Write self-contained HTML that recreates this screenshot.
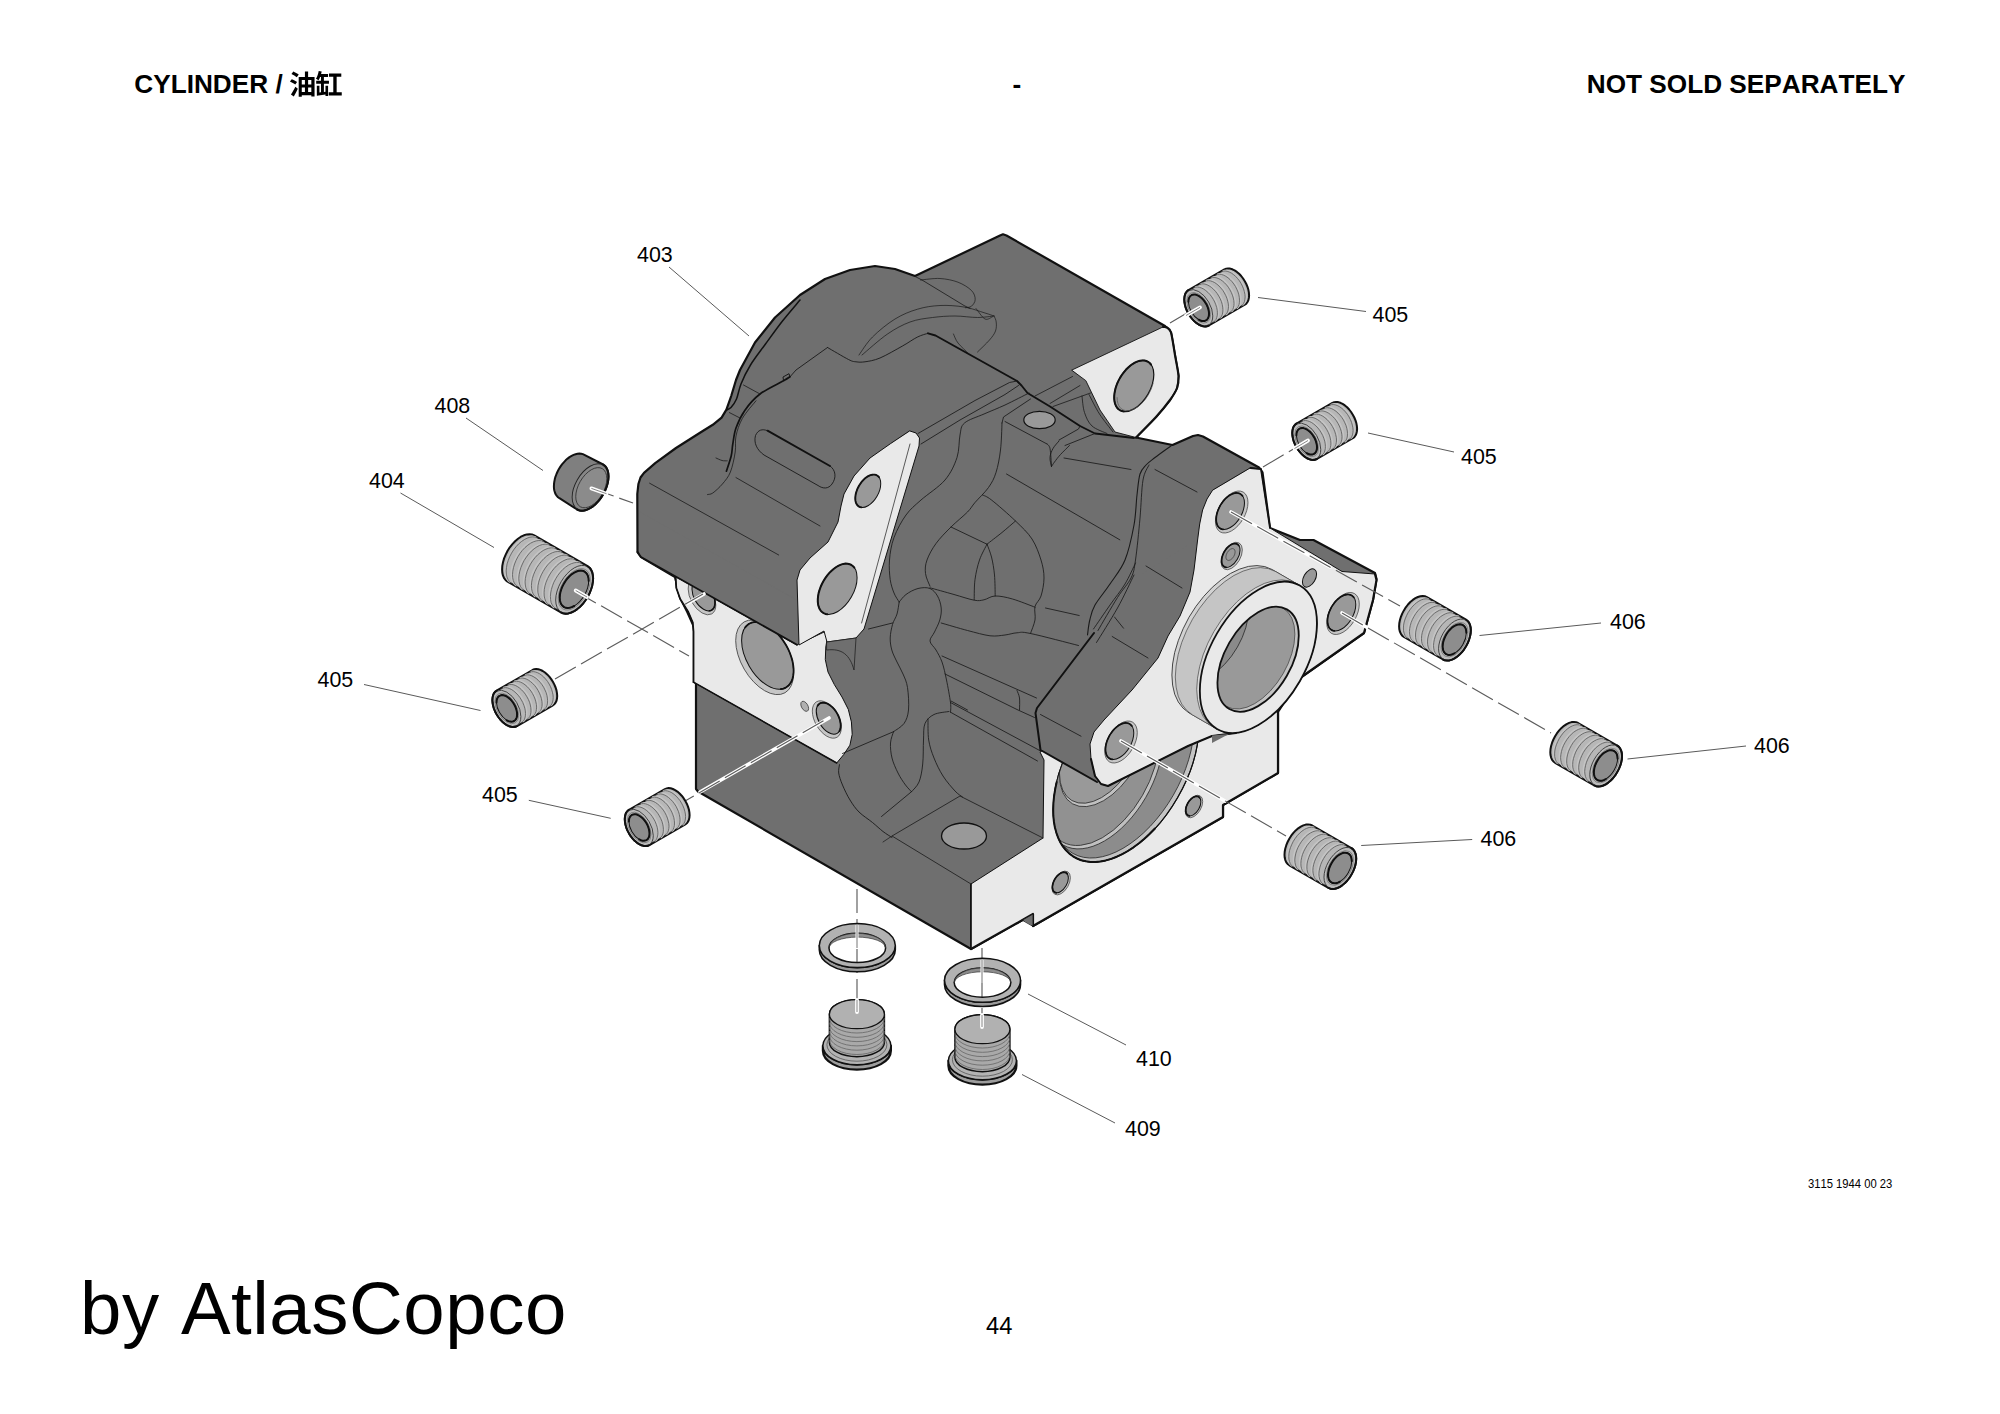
<!DOCTYPE html>
<html><head><meta charset="utf-8"><title>CYLINDER</title>
<style>
html,body{margin:0;padding:0;background:#fff;}
body{width:2000px;height:1414px;position:relative;overflow:hidden;font-family:"Liberation Sans",sans-serif;color:#000;font-kerning:none;}
svg text{font-family:"Liberation Sans",sans-serif;font-size:21.4px;fill:#000;font-kerning:none;}
svg text.hd{font-weight:bold;font-size:26.2px;}
</style></head><body>
<svg width="2000" height="1414" viewBox="0 0 2000 1414" style="position:absolute;left:0;top:0">
<path d="M637.3 494 L638.4 484 L640.5 477.5 L644 472.8 L655.2 463.2 L676 448 L700 432.8 L712.8 424.8 L721.6 417.6 L726.4 409.6 L731.2 396 L736 380 L740 370 L755 342.5 L775 317.5 L800 295 L825 279 L850 270 L875 266 L895 269 L915 276 L1000 235.5 L1003 234.3 L1006.5 235.5 L1165 326 L1171 332.5 L1178.5 376 L1177 388 L1170 400 L1156 417 L1136 437.5 L1172.5 445 L1193 436 L1198 435 L1203 436.5 L1259 467.5 L1262.5 472.5 L1270 528 L1300 540 L1313.5 540 L1375 573 L1376.5 579 L1373 600 L1364 633 L1300 678 L1278 712 L1278 773 L1223 805 L1223 817 L1033 926 L1033 914 L1022.5 920 L971 949 L698 791.5 L696 789 L696 683 L694 682 L694 627 L687.5 612.5 L680 597.5 L675 577 L641 557 L637.5 552Z" fill="#6f6f6f" stroke="#111" stroke-width="2.2" stroke-linejoin="round" stroke-linecap="round" />
<path d="M1072 370 L1165 326 L1171 332.5 L1178.5 376 L1177 388 L1170 400 L1156 417 L1136 437.5 L1115 432 L1100 410 L1086 381Z" fill="#e9e9e9" stroke="#111" stroke-width="0.9" stroke-linejoin="round" stroke-linecap="round" />
<path d="M1163 327 C1163.7 327.1 1165.7 326.6 1167 327.5 C1168.3 328.4 1169.7 327.9 1171 332.5 C1172.3 337.1 1173.8 347.8 1175 355 C1176.2 362.2 1178.2 370.5 1178.5 376 C1178.8 381.5 1178.4 384 1177 388 C1175.6 392 1173.5 395.2 1170 400 C1166.5 404.8 1161.7 410.8 1156 417 C1150.3 423.2 1139.3 434.1 1136 437.5" fill="none" stroke="#111" stroke-width="2.2" stroke-linejoin="round" stroke-linecap="round" />
<ellipse cx="1134" cy="386" rx="28" ry="16.2" transform="rotate(-60 1134 386)" fill="#999999" stroke="#111" stroke-width="1.2" />
<path d="M1151 364.5 L1149.7 363 L1148.1 361.8 L1146.3 361 L1144.4 360.5 L1142.2 360.5 L1140 360.7 L1137.7 361.4 L1135.3 362.4 L1132.9 363.8 L1130.5 365.5 L1128.2 367.5 L1125.9 369.8 L1123.8 372.3 L1121.8 375 L1120 377.9 L1118.4 380.9 L1117 384 L1115.9 387.1 L1115.1 390.2 L1114.5 393.2 L1114.2 396.1 L1114.2 398.9 L1114.5 401.5 L1115.1 403.8 L1116 405.9 L1117.1 407.7 L1118.5 409.2 L1120.1 410.3 L1121.9 411.1 L1123.9 411.5" fill="none" stroke="#111" stroke-width="2.0" stroke-linejoin="round" stroke-linecap="round" />
<path d="M1153 383.5 L1152 386.8 L1150.7 390.2 L1149.1 393.4 L1147.2 396.6 L1145.1 399.6 L1142.8 402.3 L1140.4 404.7 L1137.8 406.7 L1135.2 408.4 L1132.6 409.6 L1130.1 410.4 L1127.7 410.7 L1125.4 410.6 L1123.3 409.9 L1121.5 408.9 L1120 407.3 L1118.7 405.4 L1117.8 403.1 L1117.3 400.5 L1117.1 397.6" fill="none" stroke="#555" stroke-width="0.7" stroke-linejoin="round" stroke-linecap="round" />
<path d="M675.6 577 L676.3 588 L680.2 599 L688 611.4 L692.7 622.3 L693.5 631.6 L693.5 682.2 L836.7 763 L843.7 754.6 L849.9 745.2 L852.2 734.3 L851.4 721.9 L848.3 709.4 L842 697 L834.3 684.5 L828 672 L825.3 659.6 L825.8 647 L827.3 637.8 L825 631.6 L797 644.8Z" fill="#e9e9e9" stroke="#111" stroke-width="1.0" stroke-linejoin="round" stroke-linecap="round" />
<path d="M693.5 682.2 L836.7 763" fill="none" stroke="#111" stroke-width="1.5" stroke-linejoin="round" stroke-linecap="round" />
<path d="M675.6 577 L676.3 588 L680.2 599 L688 611.4 L692.7 622.3 L693.5 631.6 L693.5 682.2" fill="none" stroke="#111" stroke-width="1.8" stroke-linejoin="round" stroke-linecap="round" />
<ellipse cx="702" cy="597" rx="19.5" ry="11.3" transform="rotate(60 702 597)" fill="#c6c6c6" stroke="#444" stroke-width="0.7" />
<ellipse cx="703.5" cy="596" rx="16.3" ry="9.4" transform="rotate(60 703.5 596)" fill="#999999" stroke="#111" stroke-width="1.0" />
<path d="M709.4 610.8 L710.5 610.6 L711.6 610.2 L712.5 609.5 L713.3 608.6 L714 607.6 L714.5 606.4 L714.8 605 L715 603.5 L715 601.9 L714.8 600.2 L714.5 598.4 L714 596.6 L713.4 594.8 L712.6 593 L711.6 591.3 L710.6 589.6 L709.5 588 L708.2 586.6 L706.9 585.2 L705.5 584.1 L704.2 583.1 L702.8 582.3 L701.4 581.7 L700 581.3 L698.7 581.1 L697.5 581.2 L696.3 581.4 L695.3 581.9 L694.4 582.6 L693.6 583.5" fill="none" stroke="#111" stroke-width="1.6" stroke-linejoin="round" stroke-linecap="round" />
<ellipse cx="764.6" cy="657.3" rx="40.9" ry="23.6" transform="rotate(60 764.6 657.3)" fill="#c6c6c6" stroke="#444" stroke-width="0.8" />
<ellipse cx="767.6" cy="655.6" rx="36.8" ry="21.2" transform="rotate(60 767.6 655.6)" fill="#999999" stroke="#111" stroke-width="1.0" />
<path d="M780.8 689.1 L783.5 688.6 L785.8 687.6 L788 686.1 L789.8 684.1 L791.3 681.8 L792.4 679 L793.2 675.9 L793.6 672.5 L793.6 668.9 L793.2 665.1 L792.5 661.1 L791.3 657 L789.9 653 L788.1 648.9 L786 645 L783.6 641.2 L781 637.6 L778.2 634.3 L775.3 631.3 L772.2 628.7 L769.1 626.5 L765.9 624.6 L762.8 623.3 L759.7 622.4 L756.8 622 L754 622.1 L751.4 622.7 L749 623.8 L747 625.4 L745.2 627.4" fill="none" stroke="#111" stroke-width="1.8" stroke-linejoin="round" stroke-linecap="round" />
<ellipse cx="826.8" cy="719.5" rx="20.5" ry="11.8" transform="rotate(60 826.8 719.5)" fill="#c6c6c6" stroke="#444" stroke-width="0.7" />
<ellipse cx="828.5" cy="718.4" rx="17.3" ry="10" transform="rotate(60 828.5 718.4)" fill="#999999" stroke="#111" stroke-width="1.1" />
<path d="M839.4 731.1 L840.1 729.5 L840.6 727.6 L840.7 725.5 L840.6 723.2 L840.1 720.8 L839.4 718.3 L838.4 715.8 L837.1 713.4 L835.7 711.1 L834.1 709 L832.3 707.1 L830.4 705.6 L828.5 704.3 L826.6 703.3 L824.7 702.8 L822.9 702.6 L821.3 702.8 L819.9 703.4 L818.6 704.4 L817.6 705.7" fill="none" stroke="#111" stroke-width="1.8" stroke-linejoin="round" stroke-linecap="round" />
<ellipse cx="804.7" cy="706.3" rx="5.5" ry="3.2" transform="rotate(60 804.7 706.3)" fill="#b0b0b0" stroke="#333" stroke-width="0.7" />
<path d="M640 556.5 L797 644.8 L797 600 L640 512Z" fill="#6f6f6f" stroke="#6f6f6f" stroke-width="0.8" stroke-linejoin="round" stroke-linecap="round" />
<path d="M637.5 552 L641 557 L797 644.8" fill="none" stroke="#111" stroke-width="1.8" stroke-linejoin="round" stroke-linecap="round" />
<path d="M971 884 L1043 838 L1044 760 L1040 752 L1150 690 L1278 712 L1278 773 L1223 805 L1223 817 L1033 926 L1033 914 L1022.5 920 L971 949Z" fill="#e9e9e9" stroke="#111" stroke-width="1.0" stroke-linejoin="round" stroke-linecap="round" />
<path d="M971 884 L971 949" fill="none" stroke="#111" stroke-width="1.6" stroke-linejoin="round" stroke-linecap="round" />
<path d="M971 949 L1022.5 920 L1033 914 L1033 926 L1223 817 L1223 805 L1278 773 L1278 712" fill="none" stroke="#111" stroke-width="2.2" stroke-linejoin="round" stroke-linecap="round" />
<path d="M1022.5 920 L1033 914 L1033 926Z" fill="#6f6f6f" stroke="#111" stroke-width="0.8" stroke-linejoin="round" stroke-linecap="round" />
<clipPath id="rfclip"><path d="M971 884 L1043 838 L1044 760 L1040 752 L1150 690 L1278 712 L1278 773 L1223 805 L1223 817 L1033 926 L1033 914 L1022.5 920 L971 949Z"/></clipPath>
<clipPath id="rcclip"><ellipse cx="1126" cy="768" rx="103" ry="59.5" transform="rotate(-60 1126 768)"/></clipPath>
<g clip-path="url(#rfclip)">
<ellipse cx="1126" cy="768" rx="103" ry="59.5" transform="rotate(-60 1126 768)" fill="#c4c4c4" stroke="#111" stroke-width="1.2" />
<g clip-path="url(#rcclip)">
<ellipse cx="1123" cy="766.3" rx="100.5" ry="58" transform="rotate(-60 1123 766.3)" fill="#8c8c8c" stroke="#333" stroke-width="0.8" />
<ellipse cx="1104.5" cy="773.5" rx="82.6" ry="47.7" transform="rotate(-60 1104.5 773.5)" fill="#c0c0c0" stroke="#333" stroke-width="0.8" />
<ellipse cx="1102.3" cy="772.2" rx="80.3" ry="46.4" transform="rotate(-60 1102.3 772.2)" fill="#919191" stroke="#333" stroke-width="0.8" />
<ellipse cx="1103.5" cy="750" rx="62.1" ry="35.9" transform="rotate(-60 1103.5 750)" fill="#c0c0c0" stroke="#333" stroke-width="0.8" />
<ellipse cx="1101.6" cy="748.9" rx="59.6" ry="34.4" transform="rotate(-60 1101.6 748.9)" fill="#999999" stroke="#333" stroke-width="0.8" />
</g>
<ellipse cx="1126" cy="768" rx="103" ry="59.5" transform="rotate(-60 1126 768)" fill="none" stroke="#111" stroke-width="1.0" />
<path d="M1154.9 828.5 L1149.7 833.8 L1144.4 838.7 L1139 843.3 L1133.5 847.3 L1127.9 851 L1122.3 854.1 L1116.8 856.7 L1111.3 858.9 L1105.9 860.4 L1100.6 861.5 L1095.5 862 L1090.5 861.9 L1085.8 861.3 L1081.2 860.2 L1077 858.5 L1073 856.3 L1069.4 853.6 L1066 850.3 L1063 846.6 L1060.4 842.5 L1058.2 837.9 L1056.4 832.8 L1054.9 827.5 L1053.9 821.7 L1053.3 815.7 L1053.2 809.3 L1053.4 802.8 L1054.1 796 L1055.2 789.1 L1056.7 782" fill="none" stroke="#111" stroke-width="2.0" stroke-linejoin="round" stroke-linecap="round" />
</g>
<ellipse cx="1194" cy="806.5" rx="12.3" ry="7.1" transform="rotate(-60 1194 806.5)" fill="#c6c6c6" stroke="#444" stroke-width="0.7" />
<ellipse cx="1193.3" cy="806.1" rx="10.7" ry="6.2" transform="rotate(-60 1193.3 806.1)" fill="#999999" stroke="#111" stroke-width="1.0" />
<path d="M1199.8 797.9 L1199.3 797.3 L1198.6 796.8 L1198 796.5 L1197.2 796.3 L1196.4 796.3 L1195.5 796.4 L1194.7 796.7 L1193.7 797.1 L1192.8 797.6 L1191.9 798.2 L1191 799 L1190.2 799.9 L1189.3 800.8 L1188.6 801.9 L1187.9 803 L1187.3 804.1 L1186.8 805.3 L1186.3 806.5 L1186 807.7 L1185.8 808.8 L1185.7 809.9 L1185.7 811 L1185.8 812 L1186 812.9 L1186.4 813.7 L1186.8 814.4 L1187.3 814.9 L1187.9 815.4 L1188.6 815.7 L1189.4 815.8" fill="none" stroke="#111" stroke-width="1.7" stroke-linejoin="round" stroke-linecap="round" />
<ellipse cx="1061.2" cy="883" rx="13" ry="7.5" transform="rotate(-60 1061.2 883)" fill="#c6c6c6" stroke="#444" stroke-width="0.7" />
<ellipse cx="1060.4" cy="882.5" rx="11.3" ry="6.5" transform="rotate(-60 1060.4 882.5)" fill="#999999" stroke="#111" stroke-width="1.0" />
<path d="M1067.3 873.9 L1066.8 873.3 L1066.1 872.8 L1065.4 872.4 L1064.6 872.3 L1063.7 872.2 L1062.8 872.3 L1061.9 872.6 L1060.9 873 L1060 873.6 L1059 874.3 L1058.1 875.1 L1057.1 876 L1056.3 877 L1055.5 878.1 L1054.8 879.3 L1054.1 880.5 L1053.6 881.7 L1053.1 883 L1052.8 884.2 L1052.5 885.5 L1052.4 886.6 L1052.4 887.8 L1052.6 888.8 L1052.8 889.7 L1053.1 890.6 L1053.6 891.3 L1054.2 891.9 L1054.8 892.4 L1055.5 892.7 L1056.3 892.8" fill="none" stroke="#111" stroke-width="1.7" stroke-linejoin="round" stroke-linecap="round" />
<path d="M971 884 L892 836 L960 796 L1043 838" fill="none" stroke="#222" stroke-width="0.9" stroke-linejoin="round" stroke-linecap="round" />
<path d="M892 836 L883 842" fill="none" stroke="#222" stroke-width="0.8" stroke-linejoin="round" stroke-linecap="round" />
<ellipse cx="964" cy="836" rx="22.5" ry="13" fill="#999999" stroke="#111" stroke-width="1.3"/>
<path d="M971 884 L836 806" fill="none" stroke="#222" stroke-width="0.0" stroke-linejoin="round" stroke-linecap="round" />
<path d="M1035.5 713 L1037 708 L1094 633 L1140 575 L1196 540 L1194 570 L1190 592 L1180 616 L1168 636 L1158 658 L1132 690 L1104 720 L1094 732 L1090 744 L1091 759 L1095 776 L1097 782 L1040.5 750Z" fill="#6f6f6f" stroke="none" stroke-width="0" stroke-linejoin="round" stroke-linecap="round" />
<path d="M1094 633 L1037 708 L1035.5 713 L1040.5 750 L1097 782" fill="none" stroke="#111" stroke-width="2.0" stroke-linejoin="round" stroke-linecap="round" />
<path d="M1250.5 468 L1261 469 L1270 528 L1342 571.5 L1375 574 L1376.5 580 L1373 600 L1364 633 L1300 678 L1270 700 L1236 733 L1212 736 L1188 746 L1108 786 L1101 784 L1095 776 L1091 759 L1090 744 L1094 732 L1104 720 L1132 690 L1158 658 L1168 636 L1180 616 L1190 592 L1194 570 L1197.6 540 L1199.7 524 L1202.6 510 L1207 499 L1212.4 490.5Z" fill="#e9e9e9" stroke="#111" stroke-width="1.0" stroke-linejoin="round" stroke-linecap="round" />
<path d="M1250.5 468 L1261 469 L1270 528" fill="none" stroke="#111" stroke-width="1.8" stroke-linejoin="round" stroke-linecap="round" />
<path d="M1375 574 L1376.5 580 L1373 600 L1364 633 L1300 678" fill="none" stroke="#111" stroke-width="2.2" stroke-linejoin="round" stroke-linecap="round" />
<path d="M1236 733 L1212 736 L1188 746 L1108 786 L1101 784 L1095 776 L1091 759" fill="none" stroke="#111" stroke-width="2.0" stroke-linejoin="round" stroke-linecap="round" />
<path d="M1212 735.5 L1229 734 L1212 743Z" fill="#6f6f6f" stroke="none" stroke-width="0" stroke-linejoin="round" stroke-linecap="round" />
<ellipse cx="1231.7" cy="512" rx="23" ry="13.3" transform="rotate(-60 1231.7 512)" fill="#c6c6c6" stroke="#444" stroke-width="0.7" />
<ellipse cx="1230.3" cy="511.2" rx="20" ry="11.6" transform="rotate(-60 1230.3 511.2)" fill="#999999" stroke="#111" stroke-width="1.0" />
<path d="M1242.5 495.8 L1241.5 494.8 L1240.4 493.9 L1239.1 493.3 L1237.7 493 L1236.2 492.9 L1234.6 493.1 L1232.9 493.6 L1231.2 494.4 L1229.5 495.3 L1227.8 496.6 L1226.1 498 L1224.5 499.6 L1223 501.4 L1221.6 503.4 L1220.3 505.4 L1219.2 507.6 L1218.2 509.8 L1217.4 512 L1216.8 514.2 L1216.4 516.3 L1216.2 518.4 L1216.2 520.4 L1216.4 522.3 L1216.8 523.9 L1217.4 525.4 L1218.2 526.7 L1219.2 527.8 L1220.4 528.6 L1221.7 529.1 L1223.1 529.4" fill="none" stroke="#111" stroke-width="1.7" stroke-linejoin="round" stroke-linecap="round" />
<ellipse cx="1231.7" cy="556" rx="15" ry="8.7" transform="rotate(-60 1231.7 556)" fill="#c6c6c6" stroke="#444" stroke-width="0.7" />
<ellipse cx="1230.8" cy="555.5" rx="13.1" ry="7.5" transform="rotate(-60 1230.8 555.5)" fill="#999999" stroke="#111" stroke-width="1.0" />
<path d="M1238.7 545.5 L1238.1 544.8 L1237.4 544.2 L1236.5 543.8 L1235.6 543.6 L1234.6 543.6 L1233.6 543.7 L1232.5 544 L1231.4 544.5 L1230.3 545.1 L1229.2 545.9 L1228.1 546.9 L1227 547.9 L1226 549.1 L1225.1 550.4 L1224.3 551.7 L1223.5 553.1 L1222.9 554.5 L1222.4 556 L1222 557.4 L1221.7 558.8 L1221.6 560.2 L1221.6 561.5 L1221.7 562.7 L1222 563.8 L1222.4 564.8 L1222.9 565.6 L1223.6 566.3 L1224.3 566.8 L1225.2 567.2 L1226.1 567.4" fill="none" stroke="#111" stroke-width="1.7" stroke-linejoin="round" stroke-linecap="round" />
<ellipse cx="1230.5" cy="554.5" rx="6.5" ry="3.8" transform="rotate(-60 1230.5 554.5)" fill="none" stroke="#444" stroke-width="0.7" />
<ellipse cx="1309.5" cy="578" rx="10" ry="5.8" transform="rotate(-60 1309.5 578)" fill="#999999" stroke="#111" stroke-width="1.0" />
<ellipse cx="1343" cy="613.5" rx="23" ry="13.3" transform="rotate(-60 1343 613.5)" fill="#c6c6c6" stroke="#444" stroke-width="0.7" />
<ellipse cx="1341.6" cy="612.7" rx="20" ry="11.6" transform="rotate(-60 1341.6 612.7)" fill="#999999" stroke="#111" stroke-width="1.0" />
<path d="M1353.8 597.3 L1352.8 596.3 L1351.7 595.4 L1350.4 594.8 L1349 594.5 L1347.5 594.4 L1345.9 594.6 L1344.2 595.1 L1342.5 595.9 L1340.8 596.8 L1339.1 598.1 L1337.4 599.5 L1335.8 601.1 L1334.3 602.9 L1332.9 604.9 L1331.6 606.9 L1330.5 609.1 L1329.5 611.3 L1328.7 613.5 L1328.1 615.7 L1327.7 617.8 L1327.5 619.9 L1327.5 621.9 L1327.7 623.8 L1328.1 625.4 L1328.7 626.9 L1329.5 628.2 L1330.5 629.3 L1331.7 630.1 L1333 630.6 L1334.4 630.9" fill="none" stroke="#111" stroke-width="1.7" stroke-linejoin="round" stroke-linecap="round" />
<ellipse cx="1121" cy="742" rx="23" ry="13.3" transform="rotate(-60 1121 742)" fill="#c6c6c6" stroke="#444" stroke-width="0.7" />
<ellipse cx="1119.6" cy="741.2" rx="20" ry="11.6" transform="rotate(-60 1119.6 741.2)" fill="#999999" stroke="#111" stroke-width="1.0" />
<path d="M1131.8 725.8 L1130.8 724.8 L1129.7 723.9 L1128.4 723.3 L1127 723 L1125.5 722.9 L1123.9 723.1 L1122.2 723.6 L1120.5 724.4 L1118.8 725.3 L1117.1 726.6 L1115.4 728 L1113.8 729.6 L1112.3 731.4 L1110.9 733.4 L1109.6 735.4 L1108.5 737.6 L1107.5 739.8 L1106.7 742 L1106.1 744.2 L1105.7 746.3 L1105.5 748.4 L1105.5 750.4 L1105.7 752.3 L1106.1 753.9 L1106.7 755.4 L1107.5 756.7 L1108.5 757.8 L1109.7 758.6 L1111 759.1 L1112.4 759.4" fill="none" stroke="#111" stroke-width="1.7" stroke-linejoin="round" stroke-linecap="round" />
<path d="M1271.8 569.4 L1264.8 566.6 L1257 565.6 L1248.5 566.4 L1239.6 569.1 L1230.4 573.5 L1221.3 579.7 L1212.3 587.3 L1203.8 596.3 L1196 606.3 L1189 617.2 L1183.1 628.8 L1178.3 640.6 L1174.7 652.4 L1172.6 664 L1171.9 675 L1172.6 685.1 L1174.7 694.2 L1178.3 702 L1183.1 708.2 L1189 712.9 L1217 729 L1224 731.9 L1231.8 732.9 L1240.3 732 L1249.2 729.4 L1258.4 724.9 L1267.6 718.8 L1276.5 711.2 L1285 702.2 L1292.8 692.1 L1299.8 681.2 L1305.8 669.7 L1310.6 657.9 L1314.1 646 L1316.2 634.5 L1316.9 623.5 L1316.2 613.3 L1314.1 604.3 L1310.6 596.5 L1305.8 590.2 L1299.8 585.6Z" fill="#d2d2d2" stroke="#333" stroke-width="0.9" stroke-linejoin="round" stroke-linecap="round" />
<path d="M1275.3 571.4 L1268.3 568.6 L1260.5 567.6 L1252 568.4 L1243.1 571.1 L1233.9 575.5 L1224.7 581.7 L1215.8 589.3 L1207.3 598.3 L1199.5 608.3 L1192.5 619.2 L1186.5 630.8 L1181.7 642.6 L1178.2 654.4 L1176.1 666 L1175.3 677 L1176.1 687.1 L1178.2 696.2 L1181.7 704 L1186.5 710.2 L1192.5 714.9 L1217 729 L1224 731.9 L1231.8 732.9 L1240.3 732 L1249.2 729.4 L1258.4 724.9 L1267.6 718.8 L1276.5 711.2 L1285 702.2 L1292.8 692.1 L1299.8 681.2 L1305.8 669.7 L1310.6 657.9 L1314.1 646 L1316.2 634.5 L1316.9 623.5 L1316.2 613.3 L1314.1 604.3 L1310.6 596.5 L1305.8 590.2 L1299.8 585.6Z" fill="#c5c5c5" stroke="#444" stroke-width="0.7" stroke-linejoin="round" stroke-linecap="round" />
<path d="M1296.7 583.8 L1289.7 580.9 L1281.9 579.9 L1273.4 580.8 L1264.4 583.4 L1255.3 587.9 L1246.1 594 L1237.2 601.6 L1228.7 610.6 L1220.9 620.7 L1213.9 631.6 L1207.9 643.1 L1203.1 654.9 L1199.6 666.8 L1197.5 678.3 L1196.7 689.3 L1197.5 699.5 L1199.6 708.5 L1203.1 716.3 L1207.9 722.6 L1213.9 727.2 L1217 729 L1224 731.9 L1231.8 732.9 L1240.3 732 L1249.2 729.4 L1258.4 724.9 L1267.6 718.8 L1276.5 711.2 L1285 702.2 L1292.8 692.1 L1299.8 681.2 L1305.8 669.7 L1310.6 657.9 L1314.1 646 L1316.2 634.5 L1316.9 623.5 L1316.2 613.3 L1314.1 604.3 L1310.6 596.5 L1305.8 590.2 L1299.8 585.6Z" fill="#d9d9d9" stroke="#444" stroke-width="0.7" stroke-linejoin="round" stroke-linecap="round" />
<ellipse cx="1258.4" cy="657.3" rx="82.8" ry="47.8" transform="rotate(-60 1258.4 657.3)" fill="#e9e9e9" stroke="#111" stroke-width="1.8" />
<clipPath id="boreclip"><ellipse cx="1258.1" cy="659.2" rx="57.5" ry="33.2" transform="rotate(-60 1258.1 659.2)"/></clipPath>
<ellipse cx="1258.1" cy="659.2" rx="57.5" ry="33.2" transform="rotate(-60 1258.1 659.2)" fill="#c3c3c3" stroke="none" stroke-width="0" />
<g clip-path="url(#boreclip)">
<ellipse cx="1254.8" cy="657.3" rx="56.7" ry="32.7" transform="rotate(-60 1254.8 657.3)" fill="#999" stroke="#444" stroke-width="0.7" />
<ellipse cx="1209.8" cy="631.3" rx="55" ry="31.8" transform="rotate(-60 1209.8 631.3)" fill="#8a8a8a" stroke="#333" stroke-width="0.8" />
</g>
<ellipse cx="1258.1" cy="659.2" rx="57.5" ry="33.2" transform="rotate(-60 1258.1 659.2)" fill="none" stroke="#111" stroke-width="1.8" />
<path d="M910 431 L916 433 L919.5 438 L919 446 L864 629 L856 638 L827 642 L824 631 L799 645 L797 580 L800 570 L810 558 L828 542 L838 522 L841 506 L844 494 L854 476 L870 458 L890 444Z" fill="#e9e9e9" stroke="#111" stroke-width="1.0" stroke-linejoin="round" stroke-linecap="round" />
<path d="M910 444 L861.6 623" fill="none" stroke="#333" stroke-width="0.8" stroke-linejoin="round" stroke-linecap="round" />
<ellipse cx="868" cy="491" rx="18" ry="10.4" transform="rotate(-60 868 491)" fill="#999999" stroke="#111" stroke-width="1.0" />
<path d="M879 477.2 L878.1 476.2 L877.1 475.5 L875.9 474.9 L874.7 474.6 L873.3 474.6 L871.9 474.8 L870.4 475.2 L868.8 475.9 L867.3 476.7 L865.7 477.8 L864.2 479.1 L862.8 480.6 L861.4 482.2 L860.2 484 L859 485.8 L858 487.7 L857.1 489.7 L856.4 491.7 L855.8 493.7 L855.5 495.6 L855.3 497.5 L855.3 499.3 L855.5 500.9 L855.9 502.5 L856.4 503.8 L857.2 505 L858 505.9 L859.1 506.6 L860.2 507.1 L861.5 507.4" fill="none" stroke="#111" stroke-width="1.9" stroke-linejoin="round" stroke-linecap="round" />
<ellipse cx="837.4" cy="589" rx="27.8" ry="16.1" transform="rotate(-60 837.4 589)" fill="#999999" stroke="#111" stroke-width="1.0" />
<path d="M854.3 567.7 L853 566.2 L851.4 565 L849.6 564.2 L847.7 563.7 L845.6 563.6 L843.4 563.9 L841 564.6 L838.7 565.6 L836.3 567 L833.9 568.7 L831.6 570.7 L829.4 572.9 L827.3 575.4 L825.3 578.1 L823.5 581 L821.9 584 L820.6 587 L819.5 590.1 L818.6 593.1 L818.1 596.2 L817.8 599 L817.8 601.8 L818.1 604.4 L818.7 606.7 L819.5 608.8 L820.6 610.6 L822 612 L823.6 613.1 L825.4 613.9 L827.4 614.3" fill="none" stroke="#111" stroke-width="2.0" stroke-linejoin="round" stroke-linecap="round" />
<path d="M827 642 L856 638 L854 670 C850 655 842 648 827 650Z" fill="#6f6f6f" stroke="#222" stroke-width="0.8" stroke-linejoin="round" stroke-linecap="round" />
<clipPath id="silclip"><path d="M637.3 494 L638.4 484 L640.5 477.5 L644 472.8 L655.2 463.2 L676 448 L700 432.8 L712.8 424.8 L721.6 417.6 L726.4 409.6 L731.2 396 L736 380 L740 370 L755 342.5 L775 317.5 L800 295 L825 279 L850 270 L875 266 L895 269 L915 276 L1000 235.5 L1003 234.3 L1006.5 235.5 L1165 326 L1171 332.5 L1178.5 376 L1177 388 L1170 400 L1156 417 L1136 437.5 L1172.5 445 L1193 436 L1198 435 L1203 436.5 L1259 467.5 L1262.5 472.5 L1270 528 L1300 540 L1313.5 540 L1375 573 L1376.5 579 L1373 600 L1364 633 L1300 678 L1278 712 L1278 773 L1223 805 L1223 817 L1033 926 L1033 914 L1022.5 920 L971 949 L698 791.5 L696 789 L696 683 L694 682 L694 627 L687.5 612.5 L680 597.5 L675 577 L641 557 L637.5 552Z"/></clipPath>
<g clip-path="url(#silclip)">
<path d="M726.4 471.2 C727.2 468.7 730.1 460.5 731.2 456 C732.3 451.5 732 448.7 732.8 444 C733.6 439.3 734 433.6 736 428 C738 422.4 740.8 416.1 744.8 410.4 C748.8 404.7 753.5 399 760 394 C766.5 389 779 383.4 784 380.5 C789 377.6 789 377.4 790 376.8" fill="none" stroke="#111" stroke-width="1.7" stroke-linejoin="round" stroke-linecap="round" />
<path d="M756 400.8 C753.7 403.7 745.7 412.5 742.4 418.4 C739.1 424.3 737.2 430.4 736 436 C734.8 441.6 736.1 446 735.2 452 C734.3 458 732.5 466.7 730.4 472 C728.3 477.3 725.3 480.5 722.4 484 C719.5 487.5 715.3 491.2 712.8 493 C710.3 494.8 708.4 494.2 707.5 494.5" fill="none" stroke="#1a1a1a" stroke-width="0.8" stroke-linejoin="round" stroke-linecap="round" />
<path d="M783.5 380.5 L783 377 L789 373.7 L790 376.8" fill="none" stroke="#111" stroke-width="0.9" stroke-linejoin="round" stroke-linecap="round" />
<path d="M790 376.8 L796 370 L827.5 347.5" fill="none" stroke="#1a1a1a" stroke-width="0.9" stroke-linejoin="round" stroke-linecap="round" />
<path d="M827.5 347.5 C831 349.5 843.8 357.1 848.5 359.5 C853.2 361.9 853.2 361.4 856 361.8 C858.8 362.2 861 362.4 865 361.8 C869 361.2 873.8 360.6 880 358 C886.2 355.4 896.2 349.5 902.5 346 C908.8 342.5 913.2 339.1 917.5 337 C921.8 334.9 926.2 333.9 928 333.3" fill="none" stroke="#1a1a1a" stroke-width="0.9" stroke-linejoin="round" stroke-linecap="round" />
<path d="M928 333.3 L935.5 335.5 L1000 371.5 L1017 381 L1021.5 385.5 L1027.5 393 L1035 397.5 L1050 406.5 L1080 426 L1095 433.5 L1134 438" fill="none" stroke="#111" stroke-width="1.9" stroke-linejoin="round" stroke-linecap="round" />
<path d="M726.4 410 C727.2 409.6 729.3 409.3 731 407.5 C732.7 405.7 734.8 402.9 736.5 399 C738.2 395.1 738.7 389.7 741 384 C743.3 378.3 746.4 371.7 750.5 365 C754.6 358.3 760.2 351.3 765.5 344 C770.8 336.7 776.8 328.3 782.5 321 C788.2 313.7 797.1 303.5 800 300" fill="none" stroke="#111" stroke-width="1.5" stroke-linejoin="round" stroke-linecap="round" />
<path d="M743.5 385 L760 394" fill="none" stroke="#1a1a1a" stroke-width="0.8" stroke-linejoin="round" stroke-linecap="round" />
<path d="M729.4 412.6 L740 418" fill="none" stroke="#1a1a1a" stroke-width="0.8" stroke-linejoin="round" stroke-linecap="round" />
<path d="M716 458 C717 458.4 720.1 460 722 460.5 C723.9 461 726.3 460.8 727.2 460.8" fill="none" stroke="#1a1a1a" stroke-width="0.8" stroke-linejoin="round" stroke-linecap="round" />
<path d="M649.6 483.2 L778.7 555" fill="none" stroke="#1a1a1a" stroke-width="0.8" stroke-linejoin="round" stroke-linecap="round" />
<path d="M736 477.6 L820 526" fill="none" stroke="#1a1a1a" stroke-width="0.8" stroke-linejoin="round" stroke-linecap="round" />
<path d="M767.5 430.7 L830 466" fill="none" stroke="#111" stroke-width="1.9" stroke-linejoin="round" stroke-linecap="round" />
<path d="M830 466 C836 470 836.5 478 832 484 C828.5 489 823 489 818 485.5 L764 455 C757 450 753.5 443 755.5 435.5 C758 430 762 428.5 767.5 430.7" fill="none" stroke="#1a1a1a" stroke-width="0.9" stroke-linejoin="round" stroke-linecap="round" />
<path d="M914.5 276.2 L922 280 L964 305.5 L970 308.5" fill="none" stroke="#1a1a1a" stroke-width="0.8" stroke-linejoin="round" stroke-linecap="round" />
<path d="M920.5 280 C923.8 279.8 933.8 278.1 940 278.5 C946.2 278.9 952.8 280.2 958 282.2 C963.2 284.2 968.6 287.6 971.5 290.5 C974.4 293.4 975.2 296.9 975.2 299.5 C975.2 302.1 973.1 304.8 971.5 306.2 C969.9 307.6 966.5 307.4 965.5 307.7" fill="none" stroke="#1a1a1a" stroke-width="0.7" stroke-linejoin="round" stroke-linecap="round" />
<path d="M859 355 C861.2 352 866.5 343 872.5 337 C878.5 331 887.5 323.6 895 319 C902.5 314.4 910 311.4 917.5 309.2 C925 306.9 932.2 305.9 940 305.5 C947.8 305.1 956.5 305.8 964 307 C971.5 308.2 980 311.5 985 313 C990 314.5 992.5 315.5 994 316" fill="none" stroke="#1a1a1a" stroke-width="0.7" stroke-linejoin="round" stroke-linecap="round" />
<path d="M862 355 C866.2 351.5 879.5 339.5 887.5 334 C895.5 328.5 902.5 324.8 910 322 C917.5 319.2 925 318.5 932.5 317.5 C940 316.5 947.5 316 955 316 C962.5 316 971 317.5 977.5 317.5 C984 317.5 991.2 316.2 994 316" fill="none" stroke="#1a1a1a" stroke-width="0.7" stroke-linejoin="round" stroke-linecap="round" />
<path d="M994 316 C994.4 317 996 319.5 996.2 322 C996.5 324.5 996.6 328 995.5 331 C994.4 334 992.5 336.5 989.5 340 C986.5 343.5 979.5 350 977.5 352" fill="none" stroke="#1a1a1a" stroke-width="0.7" stroke-linejoin="round" stroke-linecap="round" />
<path d="M953.5 334 C954.2 335.5 955.5 339.8 958 343 C960.5 346.2 966.8 351.8 968.5 353.5" fill="none" stroke="#1a1a1a" stroke-width="0.7" stroke-linejoin="round" stroke-linecap="round" />
<path d="M976 308.5 C977.5 310.2 982.2 317.6 985 319 C987.8 320.4 991.2 317.1 992.5 316.7" fill="none" stroke="#1a1a1a" stroke-width="0.7" stroke-linejoin="round" stroke-linecap="round" />
<path d="M1017 381 L1009.5 382.5 L975 400.5 L918 433.5" fill="none" stroke="#1a1a1a" stroke-width="0.85" stroke-linejoin="round" stroke-linecap="round" />
<path d="M1018.5 385.5 L1005 394.5 L960 420 L921 444" fill="none" stroke="#1a1a1a" stroke-width="0.85" stroke-linejoin="round" stroke-linecap="round" />
<path d="M1029 393 C1025 395 1012.5 401.5 1005 405 C997.5 408.5 990.8 411 984 414 C977.2 417 968.5 419.5 964.5 423 C960.5 426.5 961.2 429.2 960 435 C958.8 440.8 959.5 450 957 457.5 C954.5 465 951 472.9 945 480 C939 487.1 927.5 494.2 921 500 C914.5 505.8 910.5 508.8 906 515 C901.5 521.2 896.8 530 894 537.5 C891.2 545 890.1 553 889.5 560 C888.9 567 889.5 574 890.2 579.5 C891 585 892.5 589.2 894 593 C895.5 596.8 898.3 600.5 899.2 602" fill="none" stroke="#1a1a1a" stroke-width="0.85" stroke-linejoin="round" stroke-linecap="round" />
<path d="M1002 423 L1003.5 417 L1030.5 399" fill="none" stroke="#1a1a1a" stroke-width="0.85" stroke-linejoin="round" stroke-linecap="round" />
<path d="M1005 421.5 L1047 444" fill="none" stroke="#1a1a1a" stroke-width="0.85" stroke-linejoin="round" stroke-linecap="round" />
<path d="M1002 423 C1001.8 427.5 1001.5 441.8 1000.5 450 C999.5 458.2 998 466.2 996 472.5 C994 478.8 992 482.5 988.5 487.5 C985 492.5 978.5 498.4 975 502.5 C971.5 506.6 971.5 507.9 967.5 512 C963.5 516.1 956.2 521.8 951 527 C945.8 532.2 940 538 936 543.5 C932 549 928.8 555 927 560 C925.2 565 925 569.1 925.5 573.5 C926 577.9 929.2 584.1 930 586.2" fill="none" stroke="#1a1a1a" stroke-width="0.85" stroke-linejoin="round" stroke-linecap="round" />
<ellipse cx="1039.5" cy="420" rx="15.7" ry="8.7" fill="#999" stroke="#111" stroke-width="1.2"/>
<path d="M1047 444 C1047.5 444.8 1049.2 444.8 1050 448.5 C1050.8 452.2 1051.2 463.5 1051.5 466.5" fill="none" stroke="#1a1a1a" stroke-width="0.85" stroke-linejoin="round" stroke-linecap="round" />
<path d="M1059 441 C1058 442.2 1054.5 445.8 1053 448.5 C1051.5 451.2 1050.2 454.5 1050 457.5 C1049.8 460.5 1051.2 465 1051.5 466.5" fill="none" stroke="#1a1a1a" stroke-width="0.85" stroke-linejoin="round" stroke-linecap="round" />
<path d="M1069.5 445.5 C1068 447 1063 451.8 1060.5 454.5 C1058 457.2 1056 460 1054.5 462 C1053 464 1052 465.8 1051.5 466.5" fill="none" stroke="#1a1a1a" stroke-width="0.85" stroke-linejoin="round" stroke-linecap="round" />
<path d="M1080 426 L1078.5 429 L1059 440" fill="none" stroke="#1a1a1a" stroke-width="0.85" stroke-linejoin="round" stroke-linecap="round" />
<path d="M1095 433.5 L1065 445.5" fill="none" stroke="#1a1a1a" stroke-width="0.85" stroke-linejoin="round" stroke-linecap="round" />
<path d="M1064 458 L1131 469.5" fill="none" stroke="#1a1a1a" stroke-width="0.85" stroke-linejoin="round" stroke-linecap="round" />
<path d="M1006.5 474 L1119.8 539.8" fill="none" stroke="#1a1a1a" stroke-width="0.85" stroke-linejoin="round" stroke-linecap="round" />
<path d="M982.5 495 C984 495.8 986 495.7 991.5 500 C997 504.3 1008.8 514.5 1015.5 521 C1022.2 527.5 1027.8 532.5 1032 539 C1036.2 545.5 1039 553.5 1041 560 C1043 566.5 1044 572 1044 578 C1044 584 1042.5 591.2 1041 596 C1039.5 600.8 1036 602.5 1035 606.5 C1034 610.5 1035.8 615.5 1035 620 C1034.2 624.5 1031.2 631.2 1030.5 633.5" fill="none" stroke="#1a1a1a" stroke-width="0.85" stroke-linejoin="round" stroke-linecap="round" />
<path d="M951 527 L987 544.2" fill="none" stroke="#1a1a1a" stroke-width="0.85" stroke-linejoin="round" stroke-linecap="round" />
<path d="M1015.5 521 C1013.2 522.9 1006.8 528.6 1002 532.5 C997.2 536.4 989.5 542.2 987 544.2" fill="none" stroke="#1a1a1a" stroke-width="0.85" stroke-linejoin="round" stroke-linecap="round" />
<path d="M987 544.2 C985.8 546.8 981.5 554.1 979.5 560 C977.5 565.9 975.9 572.9 975 579.5 C974.1 586.1 974.3 596.4 974.2 599.8" fill="none" stroke="#1a1a1a" stroke-width="0.85" stroke-linejoin="round" stroke-linecap="round" />
<path d="M987 544.2 C987.8 546.3 990.2 551.9 991.5 557 C992.8 562.1 993.9 568.5 994.5 575 C995.1 581.5 995.1 592.5 995.2 596" fill="none" stroke="#1a1a1a" stroke-width="0.85" stroke-linejoin="round" stroke-linecap="round" />
<path d="M1072.5 376.5 L1035 396" fill="none" stroke="#1a1a1a" stroke-width="0.8" stroke-linejoin="round" stroke-linecap="round" />
<path d="M1080 385.5 L1050 403.5" fill="none" stroke="#1a1a1a" stroke-width="0.8" stroke-linejoin="round" stroke-linecap="round" />
<path d="M1090.5 393 L1053 406.5" fill="none" stroke="#1a1a1a" stroke-width="0.8" stroke-linejoin="round" stroke-linecap="round" />
<path d="M1082 396 C1082.4 398.8 1082.8 407.5 1084.5 412.5 C1086.2 417.5 1088.2 422.5 1092 426 C1095.8 429.5 1104.5 432.2 1107 433.5" fill="none" stroke="#1a1a1a" stroke-width="0.8" stroke-linejoin="round" stroke-linecap="round" />
<path d="M1089 394.5 C1090.8 397.8 1095.5 407.8 1099.5 414 C1103.5 420.2 1110.8 429 1113 432" fill="none" stroke="#1a1a1a" stroke-width="0.8" stroke-linejoin="round" stroke-linecap="round" />
<path d="M1171.5 445.5 C1168.8 447.5 1159.2 454.2 1155 457.5 C1150.8 460.8 1148.5 462.2 1146 465 C1143.5 467.8 1141.5 469 1140 474 C1138.5 479 1138 486.5 1137 495 C1136 503.5 1136 514.2 1134 525 C1132 535.8 1129 550.2 1125 560 C1121 569.8 1115 576.5 1110 584 C1105 591.5 1098.4 599 1095 605 C1091.6 611 1091 615 1089.8 620 C1088.5 625 1087.9 632.5 1087.5 635" fill="none" stroke="#1a1a1a" stroke-width="1.1" stroke-linejoin="round" stroke-linecap="round" />
<path d="M1149 465 C1148 467.5 1144.5 471.2 1143 480 C1141.5 488.8 1141.2 504.7 1140 518 C1138.8 531.3 1137 550 1135.5 560 C1134 570 1134 571.8 1131 578 C1128 584.2 1123 588.8 1117.5 597.5 C1112 606.2 1101.2 625 1098 630.5" fill="none" stroke="#1a1a1a" stroke-width="0.85" stroke-linejoin="round" stroke-linecap="round" />
<path d="M1155 469.5 L1197 492" fill="none" stroke="#1a1a1a" stroke-width="0.85" stroke-linejoin="round" stroke-linecap="round" />
<path d="M1146 566 L1182 588" fill="none" stroke="#1a1a1a" stroke-width="0.85" stroke-linejoin="round" stroke-linecap="round" />
<path d="M1134 575 C1131.2 580.5 1123.8 596.8 1117.5 608 C1111.2 619.2 1100 636.8 1096.5 642.5" fill="none" stroke="#1a1a1a" stroke-width="0.85" stroke-linejoin="round" stroke-linecap="round" />
<path d="M1114.5 617 L1123.5 628.2" fill="none" stroke="#1a1a1a" stroke-width="0.85" stroke-linejoin="round" stroke-linecap="round" />
<path d="M1112.2 636.5 L1148 658" fill="none" stroke="#1a1a1a" stroke-width="0.85" stroke-linejoin="round" stroke-linecap="round" />
<path d="M1093.5 629 C1096.2 625 1104.8 612.5 1110 605 C1115.2 597.5 1120.8 591 1125 584 C1129.2 577 1133.8 566.5 1135.5 563" fill="none" stroke="#1a1a1a" stroke-width="0.85" stroke-linejoin="round" stroke-linecap="round" />
<path d="M899.2 602 C900.3 600.8 902.9 596.8 906 594.5 C909.1 592.2 914 589.5 918 588.5 C922 587.5 926.8 587.2 930 588.5 C933.2 589.8 935.6 592.8 937.5 596 C939.4 599.2 940.8 604 941.2 608 C941.6 612 940.9 616 939.8 620 C938.7 624 936.1 628.5 934.5 632 C932.9 635.5 929.8 638 930 641 C930.2 644 934 646.5 936 650 C938 653.5 940.2 657 942 662 C943.8 667 945.1 673.2 946.5 680 C947.9 686.8 949.8 697.1 950.5 702.5 C951.2 707.9 950.5 710.6 950.5 712.2" fill="none" stroke="#1a1a1a" stroke-width="0.85" stroke-linejoin="round" stroke-linecap="round" />
<path d="M899.2 602 C898.8 604 898.1 610.2 897 614 C895.9 617.8 893.6 620.5 892.5 624.5 C891.4 628.5 890.3 633.8 890.2 638 C890.1 642.2 890.7 646 891.8 650 C892.9 654 895.1 658 897 662 C898.9 666 901.2 669.8 903 674 C904.8 678.2 906.6 681.5 907.5 687.5 C908.4 693.5 909.1 704 908.5 710 C907.9 716 906.5 719.9 904 723.5 C901.5 727.1 895.2 730.3 893.5 731.7" fill="none" stroke="#1a1a1a" stroke-width="0.85" stroke-linejoin="round" stroke-linecap="round" />
<path d="M893.5 731.7 L842.5 753.5" fill="none" stroke="#1a1a1a" stroke-width="0.85" stroke-linejoin="round" stroke-linecap="round" />
<path d="M868.5 629 L892.5 623" fill="none" stroke="#1a1a1a" stroke-width="0.85" stroke-linejoin="round" stroke-linecap="round" />
<path d="M930 587.8 C934 588.9 946.6 592.4 954 594.5 C961.4 596.6 969.2 599.3 974.2 600.2 C979.2 601.1 980.5 600.5 984 599.8 C987.5 599.1 990.5 596.1 995.2 596 C1000 595.9 1005.9 597.1 1012.5 599 C1019.1 600.9 1031.2 605.8 1035 607.2" fill="none" stroke="#1a1a1a" stroke-width="0.85" stroke-linejoin="round" stroke-linecap="round" />
<path d="M941.2 623 C945.6 624.2 959.4 628.4 967.5 630.5 C975.6 632.6 983.8 635 990 635.8 C996.2 636.5 1000.5 635.5 1005 635 C1009.5 634.5 1012.8 633 1017 632.8 C1021.2 632.5 1020.2 631.4 1030.5 633.5 C1040.8 635.6 1070.5 643.5 1078.5 645.5" fill="none" stroke="#1a1a1a" stroke-width="0.85" stroke-linejoin="round" stroke-linecap="round" />
<path d="M942 656 L1036.5 698" fill="none" stroke="#1a1a1a" stroke-width="0.85" stroke-linejoin="round" stroke-linecap="round" />
<path d="M945 674 L1018 710 L1034.5 717.5" fill="none" stroke="#1a1a1a" stroke-width="0.85" stroke-linejoin="round" stroke-linecap="round" />
<path d="M951 701 L967.5 710" fill="none" stroke="#1a1a1a" stroke-width="0.85" stroke-linejoin="round" stroke-linecap="round" />
<path d="M1017 690.5 C1017.4 691.8 1019.1 694.8 1019.5 698 C1019.9 701.2 1019.5 708 1019.5 710" fill="none" stroke="#1a1a1a" stroke-width="0.85" stroke-linejoin="round" stroke-linecap="round" />
<path d="M1045.5 608 L1079.2 615.5" fill="none" stroke="#1a1a1a" stroke-width="0.85" stroke-linejoin="round" stroke-linecap="round" />
<path d="M893.5 731.7 C893 733.6 890.8 738.6 890.5 743 C890.2 747.4 890.8 753 892 758 C893.2 763 895.8 768.5 898 773 C900.2 777.5 903.2 781.9 905.5 785 C907.8 788.1 910.5 790.6 911.5 791.7" fill="none" stroke="#1a1a1a" stroke-width="0.85" stroke-linejoin="round" stroke-linecap="round" />
<path d="M911.5 791.7 L881.5 816.5" fill="none" stroke="#1a1a1a" stroke-width="0.85" stroke-linejoin="round" stroke-linecap="round" />
<path d="M911.5 791.7 C912.8 790.1 917.1 786.6 919 782 C920.9 777.4 922 771 922.7 764 C923.5 757 923.1 746.8 923.5 740 C923.9 733.2 923.2 727.8 925 723.5 C926.8 719.2 930 716.5 934 714.5 C938 712.5 946.5 712 949 711.5" fill="none" stroke="#1a1a1a" stroke-width="0.85" stroke-linejoin="round" stroke-linecap="round" />
<path d="M928 719 C928.1 722.5 927.7 733.5 928.7 740 C929.7 746.5 931.6 752 934 758 C936.4 764 939.5 770.5 943 776 C946.5 781.5 951.8 787.5 955 791 C958.2 794.5 961.2 796 962.5 797" fill="none" stroke="#1a1a1a" stroke-width="0.85" stroke-linejoin="round" stroke-linecap="round" />
<path d="M950.5 712.2 L1037.5 761" fill="none" stroke="#1a1a1a" stroke-width="0.85" stroke-linejoin="round" stroke-linecap="round" />
<path d="M950.5 702.5 L1039.7 750.5" fill="none" stroke="#1a1a1a" stroke-width="0.85" stroke-linejoin="round" stroke-linecap="round" />
<path d="M839.5 764.7 C839.4 766.1 838.2 769.6 838.7 773 C839.2 776.4 840.6 780.5 842.5 785 C844.4 789.5 847.2 795.5 850 800 C852.8 804.5 855.2 808.2 859 812 C862.8 815.8 868.5 819.2 872.5 822.5 C876.5 825.8 879.8 829 883 831.5 C886.2 834 890.5 836.5 892 837.5" fill="none" stroke="#1a1a1a" stroke-width="0.9" stroke-linejoin="round" stroke-linecap="round" />
<path d="M1040.5 714.5 L1081 736.2" fill="none" stroke="#1a1a1a" stroke-width="0.85" stroke-linejoin="round" stroke-linecap="round" />
</g>
<line x1="591" y1="488" x2="633" y2="503" stroke="#5c5c5c" stroke-width="1.15" stroke-dasharray="24 6"/>
<line x1="575" y1="591" x2="689" y2="656" stroke="#5c5c5c" stroke-width="1.15" stroke-dasharray="24 6"/>
<line x1="688" y1="603" x2="704" y2="594" stroke="#fff" stroke-width="3.6" stroke-linecap="round"/>
<line x1="555" y1="679" x2="703" y2="594" stroke="#5c5c5c" stroke-width="1.15" stroke-dasharray="24 6"/>
<line x1="700" y1="792" x2="829" y2="718" stroke="#fff" stroke-width="3.6" stroke-linecap="round"/>
<line x1="673" y1="808" x2="828" y2="718" stroke="#5c5c5c" stroke-width="1.15" stroke-dasharray="24 6"/>
<line x1="1170" y1="323" x2="1199" y2="306" stroke="#5c5c5c" stroke-width="1.15" stroke-dasharray="24 6"/>
<line x1="1263" y1="467" x2="1307" y2="441" stroke="#5c5c5c" stroke-width="1.15" stroke-dasharray="24 6"/>
<line x1="1231" y1="512" x2="1330" y2="567" stroke="#fff" stroke-width="3.6" stroke-linecap="round"/>
<line x1="1231" y1="512" x2="1400" y2="606" stroke="#5c5c5c" stroke-width="1.15" stroke-dasharray="24 6"/>
<line x1="1342" y1="613" x2="1368" y2="628" stroke="#fff" stroke-width="3.6" stroke-linecap="round"/>
<line x1="1342" y1="613" x2="1551" y2="733" stroke="#5c5c5c" stroke-width="1.15" stroke-dasharray="24 6"/>
<line x1="1121" y1="741" x2="1225" y2="801" stroke="#fff" stroke-width="3.6" stroke-linecap="round"/>
<line x1="1121" y1="741" x2="1286" y2="836" stroke="#5c5c5c" stroke-width="1.15" stroke-dasharray="24 6"/>
<line x1="857" y1="889" x2="857" y2="1012" stroke="#5c5c5c" stroke-width="1.15" stroke-dasharray="24 6"/>
<line x1="982" y1="948" x2="982" y2="1027" stroke="#5c5c5c" stroke-width="1.15" stroke-dasharray="24 6"/>
<path d="M1244.8 304.7 L1246.3 303.6 L1247.5 302 L1248.4 300.1 L1248.9 297.9 L1249.1 295.4 L1248.9 292.7 L1248.4 289.8 L1247.5 286.9 L1246.3 284 L1244.8 281.2 L1243.1 278.5 L1241.2 276 L1239.1 273.8 L1236.9 271.9 L1234.6 270.4 L1232.4 269.3 L1230.2 268.6 L1228.1 268.4 L1226.2 268.7 L1224.4 269.4 L1188.5 290.1 L1187 291.3 L1185.8 292.8 L1185 294.7 L1184.5 297 L1184.3 299.5 L1184.5 302.2 L1185 305 L1185.8 307.9 L1187 310.9 L1188.5 313.7 L1190.2 316.4 L1192.2 318.9 L1194.2 321.1 L1196.4 322.9 L1198.7 324.5 L1201 325.6 L1203.2 326.2 L1205.2 326.4 L1207.2 326.2 L1208.9 325.5Z" fill="#b7b7b7" stroke="#111" stroke-width="2.0" stroke-linejoin="round" stroke-linecap="round" />
<path d="M1215.1 320.9 L1216.4 319.7 L1217.4 318.2 L1218.1 316.3 L1218.5 314.2 L1218.6 311.8 L1218.4 309.3 L1217.9 306.6 L1217.1 303.9 L1216 301.2 L1214.6 298.6 L1213 296.1 L1211.2 293.8 L1209.3 291.8 L1207.3 290 L1205.2 288.5 L1203.1 287.4 L1201.1 286.7 L1199.1 286.4 L1197.2 286.5 L1195.6 287" fill="none" stroke="#c4c4c4" stroke-width="1.6" stroke-linejoin="round" stroke-linecap="round" />
<path d="M1213.7 322 L1215 320.8 L1216.1 319.3 L1216.8 317.4 L1217.3 315.2 L1217.4 312.8 L1217.2 310.3 L1216.7 307.6 L1215.8 304.8 L1214.7 302 L1213.3 299.4 L1211.7 296.8 L1209.9 294.5 L1207.9 292.4 L1205.8 290.6 L1203.7 289.1 L1201.5 288 L1199.4 287.3 L1197.4 287 L1195.6 287.2 L1193.9 287.7" fill="none" stroke="#5e5e5e" stroke-width="0.85" stroke-linejoin="round" stroke-linecap="round" />
<path d="M1220.7 317.7 L1221.9 316.5 L1222.9 315 L1223.7 313.1 L1224.1 311 L1224.2 308.6 L1224 306.1 L1223.4 303.4 L1222.6 300.7 L1221.5 298 L1220.1 295.4 L1218.6 292.9 L1216.8 290.6 L1214.9 288.6 L1212.8 286.8 L1210.7 285.3 L1208.7 284.2 L1206.6 283.5 L1204.6 283.2 L1202.8 283.3 L1201.1 283.8" fill="none" stroke="#c4c4c4" stroke-width="1.6" stroke-linejoin="round" stroke-linecap="round" />
<path d="M1219.2 318.8 L1220.5 317.6 L1221.6 316.1 L1222.4 314.2 L1222.8 312 L1222.9 309.6 L1222.7 307.1 L1222.2 304.4 L1221.4 301.6 L1220.2 298.8 L1218.8 296.2 L1217.2 293.6 L1215.4 291.3 L1213.4 289.2 L1211.4 287.4 L1209.2 285.9 L1207.1 284.8 L1205 284.1 L1203 283.8 L1201.1 284 L1199.4 284.5" fill="none" stroke="#5e5e5e" stroke-width="0.85" stroke-linejoin="round" stroke-linecap="round" />
<path d="M1226.2 314.5 L1227.5 313.3 L1228.5 311.8 L1229.2 309.9 L1229.6 307.8 L1229.7 305.4 L1229.5 302.9 L1229 300.2 L1228.2 297.5 L1227 294.8 L1225.7 292.2 L1224.1 289.7 L1222.3 287.4 L1220.4 285.4 L1218.4 283.6 L1216.3 282.1 L1214.2 281 L1212.1 280.3 L1210.2 280 L1208.3 280.1 L1206.6 280.6" fill="none" stroke="#c4c4c4" stroke-width="1.6" stroke-linejoin="round" stroke-linecap="round" />
<path d="M1224.7 315.6 L1226.1 314.4 L1227.1 312.9 L1227.9 311 L1228.3 308.9 L1228.5 306.5 L1228.3 303.9 L1227.7 301.2 L1226.9 298.4 L1225.8 295.7 L1224.4 293 L1222.8 290.4 L1220.9 288.1 L1219 286 L1216.9 284.2 L1214.8 282.7 L1212.6 281.6 L1210.5 280.9 L1208.5 280.6 L1206.6 280.8 L1204.9 281.3" fill="none" stroke="#5e5e5e" stroke-width="0.85" stroke-linejoin="round" stroke-linecap="round" />
<path d="M1231.7 311.3 L1233 310.1 L1234 308.6 L1234.7 306.7 L1235.2 304.6 L1235.3 302.2 L1235 299.7 L1234.5 297 L1233.7 294.3 L1232.6 291.6 L1231.2 289 L1229.6 286.5 L1227.9 284.2 L1225.9 282.2 L1223.9 280.4 L1221.8 278.9 L1219.7 277.8 L1217.7 277.1 L1215.7 276.8 L1213.8 276.9 L1212.2 277.4" fill="none" stroke="#c4c4c4" stroke-width="1.6" stroke-linejoin="round" stroke-linecap="round" />
<path d="M1230.3 312.4 L1231.6 311.2 L1232.7 309.7 L1233.4 307.8 L1233.9 305.7 L1234 303.3 L1233.8 300.7 L1233.3 298 L1232.4 295.2 L1231.3 292.5 L1229.9 289.8 L1228.3 287.2 L1226.5 284.9 L1224.5 282.8 L1222.4 281 L1220.3 279.5 L1218.1 278.4 L1216 277.7 L1214 277.4 L1212.2 277.6 L1210.5 278.2" fill="none" stroke="#5e5e5e" stroke-width="0.85" stroke-linejoin="round" stroke-linecap="round" />
<path d="M1237.3 308.1 L1238.5 306.9 L1239.6 305.4 L1240.3 303.5 L1240.7 301.4 L1240.8 299 L1240.6 296.5 L1240 293.8 L1239.2 291.1 L1238.1 288.5 L1236.8 285.8 L1235.2 283.3 L1233.4 281 L1231.5 279 L1229.4 277.2 L1227.4 275.7 L1225.3 274.6 L1223.2 273.9 L1221.2 273.6 L1219.4 273.7 L1217.7 274.2" fill="none" stroke="#c4c4c4" stroke-width="1.6" stroke-linejoin="round" stroke-linecap="round" />
<path d="M1235.8 309.2 L1237.1 308 L1238.2 306.5 L1239 304.6 L1239.4 302.5 L1239.5 300.1 L1239.3 297.5 L1238.8 294.8 L1238 292 L1236.8 289.3 L1235.5 286.6 L1233.8 284 L1232 281.7 L1230 279.6 L1228 277.8 L1225.8 276.3 L1223.7 275.2 L1221.6 274.5 L1219.6 274.2 L1217.7 274.4 L1216 275" fill="none" stroke="#5e5e5e" stroke-width="0.85" stroke-linejoin="round" stroke-linecap="round" />
<path d="M1242.8 304.9 L1244.1 303.7 L1245.1 302.2 L1245.8 300.3 L1246.2 298.2 L1246.3 295.8 L1246.1 293.3 L1245.6 290.6 L1244.8 287.9 L1243.6 285.3 L1242.3 282.6 L1240.7 280.1 L1238.9 277.8 L1237 275.8 L1235 274 L1232.9 272.5 L1230.8 271.5 L1228.7 270.7 L1226.8 270.4 L1224.9 270.5 L1223.2 271" fill="none" stroke="#c4c4c4" stroke-width="1.6" stroke-linejoin="round" stroke-linecap="round" />
<path d="M1241.3 306 L1242.7 304.9 L1243.7 303.3 L1244.5 301.4 L1244.9 299.3 L1245.1 296.9 L1244.9 294.3 L1244.3 291.6 L1243.5 288.8 L1242.4 286.1 L1241 283.4 L1239.4 280.8 L1237.5 278.5 L1235.6 276.4 L1233.5 274.6 L1231.4 273.1 L1229.2 272 L1227.1 271.3 L1225.1 271 L1223.2 271.2 L1221.6 271.8" fill="none" stroke="#5e5e5e" stroke-width="0.85" stroke-linejoin="round" stroke-linecap="round" />
<ellipse cx="1198.7" cy="307.8" rx="19.9" ry="11.5" transform="rotate(60 1198.7 307.8)" fill="#bcbcbc" stroke="#333" stroke-width="0.8" />
<path d="M1188.5 290.1 L1187 291.3 L1185.8 292.8 L1185 294.7 L1184.5 297 L1184.3 299.5 L1184.5 302.2 L1185 305 L1185.8 307.9 L1187 310.9 L1188.5 313.7 L1190.2 316.4 L1192.2 318.9 L1194.2 321.1 L1196.4 322.9 L1198.7 324.5 L1201 325.6 L1203.2 326.2 L1205.2 326.4 L1207.2 326.2 L1208.9 325.5" fill="none" stroke="#111" stroke-width="2.0" stroke-linejoin="round" stroke-linecap="round" />
<ellipse cx="1198.7" cy="307.8" rx="16.8" ry="9.7" transform="rotate(60 1198.7 307.8)" fill="none" stroke="#666" stroke-width="0.6" />
<ellipse cx="1198.7" cy="307.8" rx="14.6" ry="8.4" transform="rotate(60 1198.7 307.8)" fill="#8d8d8d" stroke="#111" stroke-width="1.0" />
<path d="M1198.7 319.7 L1200.3 320.5 L1201.9 321 L1203.4 321.1 L1204.8 320.9 L1206 320.4 L1207.1 319.6 L1207.9 318.5 L1208.5 317.2 L1208.9 315.6 L1209 313.8 L1208.9 311.8 L1208.5 309.8 L1207.9 307.7 L1207.1 305.6 L1206 303.6 L1204.8 301.7 L1203.4 299.9 L1201.9 298.3 L1200.3 297 L1198.7 295.9 L1197.1 295.1 L1195.5 294.6 L1194 294.5 L1192.6 294.7 L1191.4 295.2 L1190.3 296 L1189.5 297.1 L1188.9 298.4 L1188.5 300 L1188.4 301.8" fill="none" stroke="#111" stroke-width="2.0" stroke-linejoin="round" stroke-linecap="round" />
<path d="M1352.8 438.2 L1354.3 437.1 L1355.5 435.5 L1356.4 433.6 L1356.9 431.4 L1357.1 428.9 L1356.9 426.2 L1356.4 423.3 L1355.5 420.4 L1354.3 417.5 L1352.8 414.7 L1351.1 412 L1349.2 409.5 L1347.1 407.3 L1344.9 405.4 L1342.6 403.9 L1340.4 402.8 L1338.2 402.1 L1336.1 401.9 L1334.2 402.2 L1332.4 402.9 L1296.5 423.6 L1295 424.8 L1293.8 426.3 L1293 428.2 L1292.5 430.5 L1292.3 433 L1292.5 435.7 L1293 438.5 L1293.8 441.4 L1295 444.4 L1296.5 447.2 L1298.2 449.9 L1300.2 452.4 L1302.2 454.6 L1304.4 456.4 L1306.7 458 L1309 459.1 L1311.2 459.7 L1313.2 459.9 L1315.2 459.7 L1316.9 459Z" fill="#b7b7b7" stroke="#111" stroke-width="2.0" stroke-linejoin="round" stroke-linecap="round" />
<path d="M1323.1 454.4 L1324.4 453.2 L1325.4 451.7 L1326.1 449.8 L1326.5 447.7 L1326.6 445.3 L1326.4 442.8 L1325.9 440.1 L1325.1 437.4 L1324 434.7 L1322.6 432.1 L1321 429.6 L1319.2 427.3 L1317.3 425.3 L1315.3 423.5 L1313.2 422 L1311.1 420.9 L1309.1 420.2 L1307.1 419.9 L1305.2 420 L1303.6 420.5" fill="none" stroke="#c4c4c4" stroke-width="1.6" stroke-linejoin="round" stroke-linecap="round" />
<path d="M1321.7 455.5 L1323 454.3 L1324.1 452.8 L1324.8 450.9 L1325.3 448.7 L1325.4 446.3 L1325.2 443.8 L1324.7 441.1 L1323.8 438.3 L1322.7 435.5 L1321.3 432.9 L1319.7 430.3 L1317.9 428 L1315.9 425.9 L1313.8 424.1 L1311.7 422.6 L1309.5 421.5 L1307.4 420.8 L1305.4 420.5 L1303.6 420.7 L1301.9 421.2" fill="none" stroke="#5e5e5e" stroke-width="0.85" stroke-linejoin="round" stroke-linecap="round" />
<path d="M1328.7 451.2 L1329.9 450 L1330.9 448.5 L1331.7 446.6 L1332.1 444.5 L1332.2 442.1 L1332 439.6 L1331.4 436.9 L1330.6 434.2 L1329.5 431.5 L1328.1 428.9 L1326.6 426.4 L1324.8 424.1 L1322.9 422.1 L1320.8 420.3 L1318.7 418.8 L1316.7 417.7 L1314.6 417 L1312.6 416.7 L1310.8 416.8 L1309.1 417.3" fill="none" stroke="#c4c4c4" stroke-width="1.6" stroke-linejoin="round" stroke-linecap="round" />
<path d="M1327.2 452.3 L1328.5 451.1 L1329.6 449.6 L1330.4 447.7 L1330.8 445.5 L1330.9 443.1 L1330.7 440.6 L1330.2 437.9 L1329.4 435.1 L1328.2 432.3 L1326.8 429.7 L1325.2 427.1 L1323.4 424.8 L1321.4 422.7 L1319.4 420.9 L1317.2 419.4 L1315.1 418.3 L1313 417.6 L1311 417.3 L1309.1 417.5 L1307.4 418" fill="none" stroke="#5e5e5e" stroke-width="0.85" stroke-linejoin="round" stroke-linecap="round" />
<path d="M1334.2 448 L1335.5 446.8 L1336.5 445.3 L1337.2 443.4 L1337.6 441.3 L1337.7 438.9 L1337.5 436.4 L1337 433.7 L1336.2 431 L1335 428.3 L1333.7 425.7 L1332.1 423.2 L1330.3 420.9 L1328.4 418.9 L1326.4 417.1 L1324.3 415.6 L1322.2 414.5 L1320.1 413.8 L1318.2 413.5 L1316.3 413.6 L1314.6 414.1" fill="none" stroke="#c4c4c4" stroke-width="1.6" stroke-linejoin="round" stroke-linecap="round" />
<path d="M1332.7 449.1 L1334.1 447.9 L1335.1 446.4 L1335.9 444.5 L1336.3 442.4 L1336.5 440 L1336.3 437.4 L1335.7 434.7 L1334.9 431.9 L1333.8 429.2 L1332.4 426.5 L1330.8 423.9 L1328.9 421.6 L1327 419.5 L1324.9 417.7 L1322.8 416.2 L1320.6 415.1 L1318.5 414.4 L1316.5 414.1 L1314.6 414.3 L1312.9 414.8" fill="none" stroke="#5e5e5e" stroke-width="0.85" stroke-linejoin="round" stroke-linecap="round" />
<path d="M1339.7 444.8 L1341 443.6 L1342 442.1 L1342.7 440.2 L1343.2 438.1 L1343.3 435.7 L1343 433.2 L1342.5 430.5 L1341.7 427.8 L1340.6 425.1 L1339.2 422.5 L1337.6 420 L1335.9 417.7 L1333.9 415.7 L1331.9 413.9 L1329.8 412.4 L1327.7 411.3 L1325.7 410.6 L1323.7 410.3 L1321.8 410.4 L1320.2 410.9" fill="none" stroke="#c4c4c4" stroke-width="1.6" stroke-linejoin="round" stroke-linecap="round" />
<path d="M1338.3 445.9 L1339.6 444.7 L1340.7 443.2 L1341.4 441.3 L1341.9 439.2 L1342 436.8 L1341.8 434.2 L1341.3 431.5 L1340.4 428.7 L1339.3 426 L1337.9 423.3 L1336.3 420.7 L1334.5 418.4 L1332.5 416.3 L1330.4 414.5 L1328.3 413 L1326.1 411.9 L1324 411.2 L1322 410.9 L1320.2 411.1 L1318.5 411.7" fill="none" stroke="#5e5e5e" stroke-width="0.85" stroke-linejoin="round" stroke-linecap="round" />
<path d="M1345.3 441.6 L1346.5 440.4 L1347.6 438.9 L1348.3 437 L1348.7 434.9 L1348.8 432.5 L1348.6 430 L1348 427.3 L1347.2 424.6 L1346.1 422 L1344.8 419.3 L1343.2 416.8 L1341.4 414.5 L1339.5 412.5 L1337.4 410.7 L1335.4 409.2 L1333.3 408.1 L1331.2 407.4 L1329.2 407.1 L1327.4 407.2 L1325.7 407.7" fill="none" stroke="#c4c4c4" stroke-width="1.6" stroke-linejoin="round" stroke-linecap="round" />
<path d="M1343.8 442.7 L1345.1 441.5 L1346.2 440 L1347 438.1 L1347.4 436 L1347.5 433.6 L1347.3 431 L1346.8 428.3 L1346 425.5 L1344.8 422.8 L1343.5 420.1 L1341.8 417.5 L1340 415.2 L1338 413.1 L1336 411.3 L1333.8 409.8 L1331.7 408.7 L1329.6 408 L1327.6 407.7 L1325.7 407.9 L1324 408.5" fill="none" stroke="#5e5e5e" stroke-width="0.85" stroke-linejoin="round" stroke-linecap="round" />
<path d="M1350.8 438.4 L1352.1 437.2 L1353.1 435.7 L1353.8 433.8 L1354.2 431.7 L1354.3 429.3 L1354.1 426.8 L1353.6 424.1 L1352.8 421.4 L1351.6 418.8 L1350.3 416.1 L1348.7 413.6 L1346.9 411.3 L1345 409.3 L1343 407.5 L1340.9 406 L1338.8 405 L1336.7 404.2 L1334.8 403.9 L1332.9 404 L1331.2 404.5" fill="none" stroke="#c4c4c4" stroke-width="1.6" stroke-linejoin="round" stroke-linecap="round" />
<path d="M1349.3 439.5 L1350.7 438.4 L1351.7 436.8 L1352.5 434.9 L1352.9 432.8 L1353.1 430.4 L1352.9 427.8 L1352.3 425.1 L1351.5 422.3 L1350.4 419.6 L1349 416.9 L1347.4 414.3 L1345.5 412 L1343.6 409.9 L1341.5 408.1 L1339.4 406.6 L1337.2 405.5 L1335.1 404.8 L1333.1 404.5 L1331.2 404.7 L1329.6 405.3" fill="none" stroke="#5e5e5e" stroke-width="0.85" stroke-linejoin="round" stroke-linecap="round" />
<ellipse cx="1306.7" cy="441.3" rx="19.9" ry="11.5" transform="rotate(60 1306.7 441.3)" fill="#bcbcbc" stroke="#333" stroke-width="0.8" />
<path d="M1296.5 423.6 L1295 424.8 L1293.8 426.3 L1293 428.2 L1292.5 430.5 L1292.3 433 L1292.5 435.7 L1293 438.5 L1293.8 441.4 L1295 444.4 L1296.5 447.2 L1298.2 449.9 L1300.2 452.4 L1302.2 454.6 L1304.4 456.4 L1306.7 458 L1309 459.1 L1311.2 459.7 L1313.2 459.9 L1315.2 459.7 L1316.9 459" fill="none" stroke="#111" stroke-width="2.0" stroke-linejoin="round" stroke-linecap="round" />
<ellipse cx="1306.7" cy="441.3" rx="16.8" ry="9.7" transform="rotate(60 1306.7 441.3)" fill="none" stroke="#666" stroke-width="0.6" />
<ellipse cx="1306.7" cy="441.3" rx="14.6" ry="8.4" transform="rotate(60 1306.7 441.3)" fill="#8d8d8d" stroke="#111" stroke-width="1.0" />
<path d="M1306.7 453.2 L1308.3 454 L1309.9 454.5 L1311.4 454.6 L1312.8 454.4 L1314 453.9 L1315.1 453.1 L1315.9 452 L1316.5 450.7 L1316.9 449.1 L1317 447.3 L1316.9 445.3 L1316.5 443.3 L1315.9 441.2 L1315.1 439.1 L1314 437.1 L1312.8 435.2 L1311.4 433.4 L1309.9 431.8 L1308.3 430.5 L1306.7 429.4 L1305.1 428.6 L1303.5 428.1 L1302 428 L1300.6 428.2 L1299.4 428.7 L1298.3 429.5 L1297.5 430.6 L1296.9 431.9 L1296.5 433.5 L1296.4 435.3" fill="none" stroke="#111" stroke-width="2.0" stroke-linejoin="round" stroke-linecap="round" />
<path d="M552.9 705.3 L554.4 704.2 L555.6 702.6 L556.5 700.7 L557 698.5 L557.2 696 L557 693.3 L556.5 690.4 L555.6 687.5 L554.4 684.6 L552.9 681.8 L551.2 679.1 L549.3 676.6 L547.2 674.4 L545 672.5 L542.7 671 L540.5 669.9 L538.3 669.2 L536.2 669 L534.3 669.3 L532.5 670 L496.6 690.7 L495.1 691.9 L493.9 693.4 L493.1 695.3 L492.6 697.6 L492.4 700.1 L492.6 702.8 L493.1 705.6 L493.9 708.5 L495.1 711.5 L496.6 714.3 L498.3 717 L500.3 719.5 L502.3 721.7 L504.5 723.5 L506.8 725.1 L509.1 726.2 L511.3 726.8 L513.3 727 L515.3 726.8 L517 726.1Z" fill="#b7b7b7" stroke="#111" stroke-width="2.0" stroke-linejoin="round" stroke-linecap="round" />
<path d="M523.2 721.5 L524.5 720.3 L525.5 718.8 L526.2 716.9 L526.6 714.8 L526.7 712.4 L526.5 709.9 L526 707.2 L525.2 704.5 L524.1 701.8 L522.7 699.2 L521.1 696.7 L519.3 694.4 L517.4 692.4 L515.4 690.6 L513.3 689.1 L511.2 688 L509.2 687.3 L507.2 687 L505.3 687.1 L503.7 687.6" fill="none" stroke="#c4c4c4" stroke-width="1.6" stroke-linejoin="round" stroke-linecap="round" />
<path d="M521.8 722.6 L523.1 721.4 L524.2 719.9 L524.9 718 L525.4 715.8 L525.5 713.4 L525.3 710.9 L524.8 708.2 L523.9 705.4 L522.8 702.6 L521.4 700 L519.8 697.4 L518 695.1 L516 693 L513.9 691.2 L511.8 689.7 L509.6 688.6 L507.5 687.9 L505.5 687.6 L503.7 687.8 L502 688.3" fill="none" stroke="#5e5e5e" stroke-width="0.85" stroke-linejoin="round" stroke-linecap="round" />
<path d="M528.8 718.3 L530 717.1 L531 715.6 L531.8 713.7 L532.2 711.6 L532.3 709.2 L532.1 706.7 L531.5 704 L530.7 701.3 L529.6 698.6 L528.2 696 L526.7 693.5 L524.9 691.2 L523 689.2 L520.9 687.4 L518.8 685.9 L516.8 684.8 L514.7 684.1 L512.7 683.8 L510.9 683.9 L509.2 684.4" fill="none" stroke="#c4c4c4" stroke-width="1.6" stroke-linejoin="round" stroke-linecap="round" />
<path d="M527.3 719.4 L528.6 718.2 L529.7 716.7 L530.5 714.8 L530.9 712.6 L531 710.2 L530.8 707.7 L530.3 705 L529.5 702.2 L528.3 699.4 L526.9 696.8 L525.3 694.2 L523.5 691.9 L521.5 689.8 L519.5 688 L517.3 686.5 L515.2 685.4 L513.1 684.7 L511.1 684.4 L509.2 684.6 L507.5 685.1" fill="none" stroke="#5e5e5e" stroke-width="0.85" stroke-linejoin="round" stroke-linecap="round" />
<path d="M534.3 715.1 L535.6 713.9 L536.6 712.4 L537.3 710.5 L537.7 708.4 L537.8 706 L537.6 703.5 L537.1 700.8 L536.3 698.1 L535.1 695.4 L533.8 692.8 L532.2 690.3 L530.4 688 L528.5 686 L526.5 684.2 L524.4 682.7 L522.3 681.6 L520.2 680.9 L518.3 680.6 L516.4 680.7 L514.7 681.2" fill="none" stroke="#c4c4c4" stroke-width="1.6" stroke-linejoin="round" stroke-linecap="round" />
<path d="M532.8 716.2 L534.2 715 L535.2 713.5 L536 711.6 L536.4 709.5 L536.6 707.1 L536.4 704.5 L535.8 701.8 L535 699 L533.9 696.3 L532.5 693.6 L530.9 691 L529 688.7 L527.1 686.6 L525 684.8 L522.9 683.3 L520.7 682.2 L518.6 681.5 L516.6 681.2 L514.7 681.4 L513 681.9" fill="none" stroke="#5e5e5e" stroke-width="0.85" stroke-linejoin="round" stroke-linecap="round" />
<path d="M539.8 711.9 L541.1 710.7 L542.1 709.2 L542.8 707.3 L543.3 705.2 L543.4 702.8 L543.1 700.3 L542.6 697.6 L541.8 694.9 L540.7 692.2 L539.3 689.6 L537.7 687.1 L536 684.8 L534 682.8 L532 681 L529.9 679.5 L527.8 678.4 L525.8 677.7 L523.8 677.4 L521.9 677.5 L520.3 678" fill="none" stroke="#c4c4c4" stroke-width="1.6" stroke-linejoin="round" stroke-linecap="round" />
<path d="M538.4 713 L539.7 711.8 L540.8 710.3 L541.5 708.4 L542 706.3 L542.1 703.9 L541.9 701.3 L541.4 698.6 L540.5 695.8 L539.4 693.1 L538 690.4 L536.4 687.8 L534.6 685.5 L532.6 683.4 L530.5 681.6 L528.4 680.1 L526.2 679 L524.1 678.3 L522.1 678 L520.3 678.2 L518.6 678.8" fill="none" stroke="#5e5e5e" stroke-width="0.85" stroke-linejoin="round" stroke-linecap="round" />
<path d="M545.4 708.7 L546.6 707.5 L547.7 706 L548.4 704.1 L548.8 702 L548.9 699.6 L548.7 697.1 L548.1 694.4 L547.3 691.7 L546.2 689.1 L544.9 686.4 L543.3 683.9 L541.5 681.6 L539.6 679.6 L537.5 677.8 L535.5 676.3 L533.4 675.2 L531.3 674.5 L529.3 674.2 L527.5 674.3 L525.8 674.8" fill="none" stroke="#c4c4c4" stroke-width="1.6" stroke-linejoin="round" stroke-linecap="round" />
<path d="M543.9 709.8 L545.2 708.6 L546.3 707.1 L547.1 705.2 L547.5 703.1 L547.6 700.7 L547.4 698.1 L546.9 695.4 L546.1 692.6 L544.9 689.9 L543.6 687.2 L541.9 684.6 L540.1 682.3 L538.1 680.2 L536.1 678.4 L533.9 676.9 L531.8 675.8 L529.7 675.1 L527.7 674.8 L525.8 675 L524.1 675.6" fill="none" stroke="#5e5e5e" stroke-width="0.85" stroke-linejoin="round" stroke-linecap="round" />
<path d="M550.9 705.5 L552.2 704.3 L553.2 702.8 L553.9 700.9 L554.3 698.8 L554.4 696.4 L554.2 693.9 L553.7 691.2 L552.9 688.5 L551.7 685.9 L550.4 683.2 L548.8 680.7 L547 678.4 L545.1 676.4 L543.1 674.6 L541 673.1 L538.9 672.1 L536.8 671.3 L534.9 671 L533 671.1 L531.3 671.6" fill="none" stroke="#c4c4c4" stroke-width="1.6" stroke-linejoin="round" stroke-linecap="round" />
<path d="M549.4 706.6 L550.8 705.5 L551.8 703.9 L552.6 702 L553 699.9 L553.2 697.5 L553 694.9 L552.4 692.2 L551.6 689.4 L550.5 686.7 L549.1 684 L547.5 681.4 L545.6 679.1 L543.7 677 L541.6 675.2 L539.5 673.7 L537.3 672.6 L535.2 671.9 L533.2 671.6 L531.3 671.8 L529.7 672.4" fill="none" stroke="#5e5e5e" stroke-width="0.85" stroke-linejoin="round" stroke-linecap="round" />
<ellipse cx="506.8" cy="708.4" rx="19.9" ry="11.5" transform="rotate(60 506.8 708.4)" fill="#bcbcbc" stroke="#333" stroke-width="0.8" />
<path d="M496.6 690.7 L495.1 691.9 L493.9 693.4 L493.1 695.3 L492.6 697.6 L492.4 700.1 L492.6 702.8 L493.1 705.6 L493.9 708.5 L495.1 711.5 L496.6 714.3 L498.3 717 L500.3 719.5 L502.3 721.7 L504.5 723.5 L506.8 725.1 L509.1 726.2 L511.3 726.8 L513.3 727 L515.3 726.8 L517 726.1" fill="none" stroke="#111" stroke-width="2.0" stroke-linejoin="round" stroke-linecap="round" />
<ellipse cx="506.8" cy="708.4" rx="16.8" ry="9.7" transform="rotate(60 506.8 708.4)" fill="none" stroke="#666" stroke-width="0.6" />
<ellipse cx="506.8" cy="708.4" rx="14.6" ry="8.4" transform="rotate(60 506.8 708.4)" fill="#8d8d8d" stroke="#111" stroke-width="1.0" />
<path d="M506.8 720.3 L508.4 721.1 L510 721.6 L511.5 721.7 L512.9 721.5 L514.1 721 L515.2 720.2 L516 719.1 L516.6 717.8 L517 716.2 L517.1 714.4 L517 712.4 L516.6 710.4 L516 708.3 L515.2 706.2 L514.1 704.2 L512.9 702.3 L511.5 700.5 L510 698.9 L508.4 697.6 L506.8 696.5 L505.2 695.7 L503.6 695.2 L502.1 695.1 L500.7 695.3 L499.5 695.8 L498.4 696.6 L497.6 697.7 L497 699 L496.6 700.6 L496.5 702.4" fill="none" stroke="#111" stroke-width="2.0" stroke-linejoin="round" stroke-linecap="round" />
<path d="M685.3 824.4 L686.8 823.3 L688 821.7 L688.9 819.8 L689.4 817.6 L689.6 815.1 L689.4 812.4 L688.9 809.5 L688 806.6 L686.8 803.7 L685.3 800.9 L683.6 798.2 L681.7 795.7 L679.6 793.5 L677.4 791.6 L675.1 790.1 L672.9 789 L670.7 788.3 L668.6 788.1 L666.7 788.4 L664.9 789.1 L629 809.8 L627.5 811 L626.3 812.5 L625.5 814.4 L625 816.7 L624.8 819.2 L625 821.9 L625.5 824.7 L626.3 827.6 L627.5 830.6 L629 833.4 L630.7 836.1 L632.7 838.6 L634.7 840.8 L636.9 842.6 L639.2 844.2 L641.5 845.3 L643.7 845.9 L645.7 846.1 L647.7 845.9 L649.4 845.2Z" fill="#b7b7b7" stroke="#111" stroke-width="2.0" stroke-linejoin="round" stroke-linecap="round" />
<path d="M655.6 840.6 L656.9 839.4 L657.9 837.9 L658.6 836 L659 833.9 L659.1 831.5 L658.9 829 L658.4 826.3 L657.6 823.6 L656.5 820.9 L655.1 818.3 L653.5 815.8 L651.7 813.5 L649.8 811.5 L647.8 809.7 L645.7 808.2 L643.6 807.1 L641.6 806.4 L639.6 806.1 L637.7 806.2 L636.1 806.7" fill="none" stroke="#c4c4c4" stroke-width="1.6" stroke-linejoin="round" stroke-linecap="round" />
<path d="M654.2 841.7 L655.5 840.5 L656.6 839 L657.3 837.1 L657.8 834.9 L657.9 832.5 L657.7 830 L657.2 827.3 L656.3 824.5 L655.2 821.7 L653.8 819.1 L652.2 816.5 L650.4 814.2 L648.4 812.1 L646.3 810.3 L644.2 808.8 L642 807.7 L639.9 807 L637.9 806.7 L636.1 806.9 L634.4 807.4" fill="none" stroke="#5e5e5e" stroke-width="0.85" stroke-linejoin="round" stroke-linecap="round" />
<path d="M661.2 837.4 L662.4 836.2 L663.4 834.7 L664.2 832.8 L664.6 830.7 L664.7 828.3 L664.5 825.8 L663.9 823.1 L663.1 820.4 L662 817.7 L660.6 815.1 L659.1 812.6 L657.3 810.3 L655.4 808.3 L653.3 806.5 L651.2 805 L649.2 803.9 L647.1 803.2 L645.1 802.9 L643.3 803 L641.6 803.5" fill="none" stroke="#c4c4c4" stroke-width="1.6" stroke-linejoin="round" stroke-linecap="round" />
<path d="M659.7 838.5 L661 837.3 L662.1 835.8 L662.9 833.9 L663.3 831.7 L663.4 829.3 L663.2 826.8 L662.7 824.1 L661.9 821.3 L660.7 818.5 L659.3 815.9 L657.7 813.3 L655.9 811 L653.9 808.9 L651.9 807.1 L649.7 805.6 L647.6 804.5 L645.5 803.8 L643.5 803.5 L641.6 803.7 L639.9 804.2" fill="none" stroke="#5e5e5e" stroke-width="0.85" stroke-linejoin="round" stroke-linecap="round" />
<path d="M666.7 834.2 L668 833 L669 831.5 L669.7 829.6 L670.1 827.5 L670.2 825.1 L670 822.6 L669.5 819.9 L668.7 817.2 L667.5 814.5 L666.2 811.9 L664.6 809.4 L662.8 807.1 L660.9 805.1 L658.9 803.3 L656.8 801.8 L654.7 800.7 L652.6 800 L650.7 799.7 L648.8 799.8 L647.1 800.3" fill="none" stroke="#c4c4c4" stroke-width="1.6" stroke-linejoin="round" stroke-linecap="round" />
<path d="M665.2 835.3 L666.6 834.1 L667.6 832.6 L668.4 830.7 L668.8 828.6 L669 826.2 L668.8 823.6 L668.2 820.9 L667.4 818.1 L666.3 815.4 L664.9 812.7 L663.3 810.1 L661.4 807.8 L659.5 805.7 L657.4 803.9 L655.3 802.4 L653.1 801.3 L651 800.6 L649 800.3 L647.1 800.5 L645.4 801" fill="none" stroke="#5e5e5e" stroke-width="0.85" stroke-linejoin="round" stroke-linecap="round" />
<path d="M672.2 831 L673.5 829.8 L674.5 828.3 L675.2 826.4 L675.7 824.3 L675.8 821.9 L675.5 819.4 L675 816.7 L674.2 814 L673.1 811.3 L671.7 808.7 L670.1 806.2 L668.4 803.9 L666.4 801.9 L664.4 800.1 L662.3 798.6 L660.2 797.5 L658.2 796.8 L656.2 796.5 L654.3 796.6 L652.7 797.1" fill="none" stroke="#c4c4c4" stroke-width="1.6" stroke-linejoin="round" stroke-linecap="round" />
<path d="M670.8 832.1 L672.1 830.9 L673.2 829.4 L673.9 827.5 L674.4 825.4 L674.5 823 L674.3 820.4 L673.8 817.7 L672.9 814.9 L671.8 812.2 L670.4 809.5 L668.8 806.9 L667 804.6 L665 802.5 L662.9 800.7 L660.8 799.2 L658.6 798.1 L656.5 797.4 L654.5 797.1 L652.7 797.3 L651 797.9" fill="none" stroke="#5e5e5e" stroke-width="0.85" stroke-linejoin="round" stroke-linecap="round" />
<path d="M677.8 827.8 L679 826.6 L680.1 825.1 L680.8 823.2 L681.2 821.1 L681.3 818.7 L681.1 816.2 L680.5 813.5 L679.7 810.8 L678.6 808.2 L677.3 805.5 L675.7 803 L673.9 800.7 L672 798.7 L669.9 796.9 L667.9 795.4 L665.8 794.3 L663.7 793.6 L661.7 793.3 L659.9 793.4 L658.2 793.9" fill="none" stroke="#c4c4c4" stroke-width="1.6" stroke-linejoin="round" stroke-linecap="round" />
<path d="M676.3 828.9 L677.6 827.7 L678.7 826.2 L679.5 824.3 L679.9 822.2 L680 819.8 L679.8 817.2 L679.3 814.5 L678.5 811.7 L677.3 809 L676 806.3 L674.3 803.7 L672.5 801.4 L670.5 799.3 L668.5 797.5 L666.3 796 L664.2 794.9 L662.1 794.2 L660.1 793.9 L658.2 794.1 L656.5 794.7" fill="none" stroke="#5e5e5e" stroke-width="0.85" stroke-linejoin="round" stroke-linecap="round" />
<path d="M683.3 824.6 L684.6 823.4 L685.6 821.9 L686.3 820 L686.7 817.9 L686.8 815.5 L686.6 813 L686.1 810.3 L685.3 807.6 L684.1 805 L682.8 802.3 L681.2 799.8 L679.4 797.5 L677.5 795.5 L675.5 793.7 L673.4 792.2 L671.3 791.2 L669.2 790.4 L667.3 790.1 L665.4 790.2 L663.7 790.7" fill="none" stroke="#c4c4c4" stroke-width="1.6" stroke-linejoin="round" stroke-linecap="round" />
<path d="M681.8 825.7 L683.2 824.6 L684.2 823 L685 821.1 L685.4 819 L685.6 816.6 L685.4 814 L684.8 811.3 L684 808.5 L682.9 805.8 L681.5 803.1 L679.9 800.5 L678 798.2 L676.1 796.1 L674 794.3 L671.9 792.8 L669.7 791.7 L667.6 791 L665.6 790.7 L663.7 790.9 L662.1 791.5" fill="none" stroke="#5e5e5e" stroke-width="0.85" stroke-linejoin="round" stroke-linecap="round" />
<ellipse cx="639.2" cy="827.5" rx="19.9" ry="11.5" transform="rotate(60 639.2 827.5)" fill="#bcbcbc" stroke="#333" stroke-width="0.8" />
<path d="M629 809.8 L627.5 811 L626.3 812.5 L625.5 814.4 L625 816.7 L624.8 819.2 L625 821.9 L625.5 824.7 L626.3 827.6 L627.5 830.6 L629 833.4 L630.7 836.1 L632.7 838.6 L634.7 840.8 L636.9 842.6 L639.2 844.2 L641.5 845.3 L643.7 845.9 L645.7 846.1 L647.7 845.9 L649.4 845.2" fill="none" stroke="#111" stroke-width="2.0" stroke-linejoin="round" stroke-linecap="round" />
<ellipse cx="639.2" cy="827.5" rx="16.8" ry="9.7" transform="rotate(60 639.2 827.5)" fill="none" stroke="#666" stroke-width="0.6" />
<ellipse cx="639.2" cy="827.5" rx="14.6" ry="8.4" transform="rotate(60 639.2 827.5)" fill="#8d8d8d" stroke="#111" stroke-width="1.0" />
<path d="M639.2 839.4 L640.8 840.2 L642.4 840.7 L643.9 840.8 L645.3 840.6 L646.5 840.1 L647.6 839.3 L648.4 838.2 L649 836.9 L649.4 835.3 L649.5 833.5 L649.4 831.5 L649 829.5 L648.4 827.4 L647.6 825.3 L646.5 823.3 L645.3 821.4 L643.9 819.6 L642.4 818 L640.8 816.7 L639.2 815.6 L637.6 814.8 L636 814.3 L634.5 814.2 L633.1 814.4 L631.9 814.9 L630.8 815.7 L630 816.8 L629.4 818.1 L629 819.7 L628.9 821.5" fill="none" stroke="#111" stroke-width="2.0" stroke-linejoin="round" stroke-linecap="round" />
<path d="M1426.9 597.1 L1424.9 596.3 L1422.7 596 L1420.4 596.2 L1417.9 597 L1415.4 598.2 L1412.8 599.9 L1410.3 602 L1408 604.5 L1405.8 607.3 L1403.9 610.4 L1402.2 613.6 L1400.9 616.8 L1399.9 620.1 L1399.3 623.3 L1399.1 626.4 L1399.3 629.2 L1399.9 631.7 L1400.9 633.9 L1402.2 635.6 L1403.9 636.9 L1443 659.5 L1444.9 660.3 L1447.1 660.6 L1449.5 660.4 L1452 659.6 L1454.5 658.4 L1457 656.7 L1459.5 654.6 L1461.9 652.1 L1464.1 649.3 L1466 646.2 L1467.7 643 L1469 639.8 L1470 636.5 L1470.6 633.3 L1470.8 630.2 L1470.6 627.4 L1470 624.9 L1469 622.7 L1467.7 621 L1466 619.7Z" fill="#b7b7b7" stroke="#111" stroke-width="2.0" stroke-linejoin="round" stroke-linecap="round" />
<path d="M1458.4 616.3 L1456.5 615.7 L1454.5 615.6 L1452.2 616 L1449.9 616.8 L1447.5 618 L1445.2 619.6 L1442.9 621.7 L1440.7 624 L1438.7 626.6 L1436.9 629.4 L1435.3 632.4 L1434.1 635.4 L1433.1 638.5 L1432.5 641.5 L1432.3 644.4 L1432.4 647 L1432.9 649.4 L1433.7 651.6 L1434.8 653.3 L1436.3 654.7" fill="none" stroke="#c4c4c4" stroke-width="1.6" stroke-linejoin="round" stroke-linecap="round" />
<path d="M1460.2 617 L1458.2 616.4 L1456.1 616.2 L1453.9 616.5 L1451.5 617.3 L1449.1 618.5 L1446.7 620.2 L1444.3 622.2 L1442.1 624.6 L1440 627.3 L1438.2 630.2 L1436.6 633.2 L1435.3 636.3 L1434.4 639.4 L1433.8 642.5 L1433.5 645.4 L1433.7 648.1 L1434.2 650.6 L1435.1 652.7 L1436.3 654.5 L1437.8 655.8" fill="none" stroke="#5e5e5e" stroke-width="0.85" stroke-linejoin="round" stroke-linecap="round" />
<path d="M1452.4 612.8 L1450.5 612.2 L1448.4 612.1 L1446.2 612.5 L1443.9 613.3 L1441.5 614.5 L1439.1 616.2 L1436.8 618.2 L1434.7 620.5 L1432.6 623.1 L1430.8 625.9 L1429.3 628.9 L1428 632 L1427.1 635 L1426.5 638 L1426.3 640.9 L1426.4 643.5 L1426.9 646 L1427.7 648.1 L1428.8 649.8 L1430.2 651.2" fill="none" stroke="#c4c4c4" stroke-width="1.6" stroke-linejoin="round" stroke-linecap="round" />
<path d="M1454.1 613.5 L1452.2 612.9 L1450.1 612.7 L1447.8 613 L1445.5 613.8 L1443 615.1 L1440.6 616.7 L1438.3 618.8 L1436 621.1 L1434 623.8 L1432.1 626.7 L1430.6 629.7 L1429.3 632.8 L1428.3 636 L1427.7 639 L1427.5 641.9 L1427.7 644.7 L1428.2 647.1 L1429 649.2 L1430.2 651 L1431.7 652.3" fill="none" stroke="#5e5e5e" stroke-width="0.85" stroke-linejoin="round" stroke-linecap="round" />
<path d="M1446.4 609.3 L1444.5 608.8 L1442.4 608.6 L1440.2 609 L1437.8 609.8 L1435.5 611 L1433.1 612.7 L1430.8 614.7 L1428.6 617 L1426.6 619.6 L1424.8 622.5 L1423.3 625.4 L1422 628.5 L1421.1 631.5 L1420.5 634.5 L1420.2 637.4 L1420.4 640.1 L1420.8 642.5 L1421.6 644.6 L1422.8 646.4 L1424.2 647.7" fill="none" stroke="#c4c4c4" stroke-width="1.6" stroke-linejoin="round" stroke-linecap="round" />
<path d="M1448.1 610.1 L1446.2 609.4 L1444.1 609.3 L1441.8 609.6 L1439.4 610.3 L1437 611.6 L1434.6 613.2 L1432.2 615.3 L1430 617.7 L1428 620.3 L1426.1 623.2 L1424.5 626.2 L1423.3 629.4 L1422.3 632.5 L1421.7 635.5 L1421.5 638.5 L1421.6 641.2 L1422.1 643.6 L1423 645.7 L1424.2 647.5 L1425.7 648.8" fill="none" stroke="#5e5e5e" stroke-width="0.85" stroke-linejoin="round" stroke-linecap="round" />
<path d="M1440.4 605.8 L1438.5 605.3 L1436.4 605.2 L1434.1 605.5 L1431.8 606.3 L1429.4 607.6 L1427.1 609.2 L1424.8 611.2 L1422.6 613.6 L1420.6 616.2 L1418.8 619 L1417.2 621.9 L1416 625 L1415.1 628.1 L1414.5 631 L1414.2 633.9 L1414.3 636.6 L1414.8 639 L1415.6 641.1 L1416.8 642.9 L1418.2 644.2" fill="none" stroke="#c4c4c4" stroke-width="1.6" stroke-linejoin="round" stroke-linecap="round" />
<path d="M1442.1 606.6 L1440.2 605.9 L1438 605.8 L1435.8 606.1 L1433.4 606.9 L1431 608.1 L1428.6 609.8 L1426.2 611.8 L1424 614.2 L1421.9 616.8 L1420.1 619.7 L1418.5 622.8 L1417.2 625.9 L1416.3 629 L1415.7 632.1 L1415.5 635 L1415.6 637.7 L1416.1 640.1 L1417 642.3 L1418.2 644 L1419.7 645.3" fill="none" stroke="#5e5e5e" stroke-width="0.85" stroke-linejoin="round" stroke-linecap="round" />
<path d="M1434.3 602.4 L1432.4 601.8 L1430.3 601.7 L1428.1 602 L1425.8 602.8 L1423.4 604.1 L1421 605.7 L1418.7 607.7 L1416.6 610.1 L1414.6 612.7 L1412.8 615.5 L1411.2 618.5 L1410 621.5 L1409 624.6 L1408.4 627.6 L1408.2 630.4 L1408.3 633.1 L1408.8 635.5 L1409.6 637.6 L1410.7 639.4 L1412.2 640.7" fill="none" stroke="#c4c4c4" stroke-width="1.6" stroke-linejoin="round" stroke-linecap="round" />
<path d="M1436 603.1 L1434.1 602.5 L1432 602.3 L1429.7 602.6 L1427.4 603.4 L1425 604.6 L1422.5 606.3 L1420.2 608.3 L1418 610.7 L1415.9 613.4 L1414.1 616.3 L1412.5 619.3 L1411.2 622.4 L1410.3 625.5 L1409.7 628.6 L1409.4 631.5 L1409.6 634.2 L1410.1 636.7 L1410.9 638.8 L1412.1 640.5 L1413.7 641.9" fill="none" stroke="#5e5e5e" stroke-width="0.85" stroke-linejoin="round" stroke-linecap="round" />
<path d="M1428.3 598.9 L1426.4 598.3 L1424.3 598.2 L1422.1 598.5 L1419.7 599.4 L1417.4 600.6 L1415 602.2 L1412.7 604.3 L1410.5 606.6 L1408.5 609.2 L1406.7 612 L1405.2 615 L1403.9 618 L1403 621.1 L1402.4 624.1 L1402.2 627 L1402.3 629.6 L1402.7 632 L1403.6 634.2 L1404.7 635.9 L1406.1 637.3" fill="none" stroke="#c4c4c4" stroke-width="1.6" stroke-linejoin="round" stroke-linecap="round" />
<path d="M1430 599.6 L1428.1 599 L1426 598.8 L1423.7 599.1 L1421.3 599.9 L1418.9 601.1 L1416.5 602.8 L1414.2 604.8 L1411.9 607.2 L1409.9 609.9 L1408 612.8 L1406.5 615.8 L1405.2 618.9 L1404.2 622 L1403.6 625.1 L1403.4 628 L1403.5 630.7 L1404.1 633.2 L1404.9 635.3 L1406.1 637.1 L1407.6 638.4" fill="none" stroke="#5e5e5e" stroke-width="0.85" stroke-linejoin="round" stroke-linecap="round" />
<ellipse cx="1454.5" cy="639.6" rx="22.5" ry="13" transform="rotate(-60 1454.5 639.6)" fill="#bcbcbc" stroke="#333" stroke-width="0.8" />
<path d="M1443 659.5 L1444.9 660.3 L1447.1 660.6 L1449.5 660.4 L1452 659.6 L1454.5 658.4 L1457 656.7 L1459.5 654.6 L1461.9 652.1 L1464.1 649.3 L1466 646.2 L1467.7 643 L1469 639.8 L1470 636.5 L1470.6 633.3 L1470.8 630.2 L1470.6 627.4 L1470 624.9 L1469 622.7 L1467.7 621 L1466 619.7" fill="none" stroke="#111" stroke-width="2.0" stroke-linejoin="round" stroke-linecap="round" />
<ellipse cx="1454.5" cy="639.6" rx="19" ry="11" transform="rotate(-60 1454.5 639.6)" fill="none" stroke="#666" stroke-width="0.6" />
<ellipse cx="1454.5" cy="639.6" rx="16.8" ry="9.7" transform="rotate(-60 1454.5 639.6)" fill="#8d8d8d" stroke="#111" stroke-width="1.0" />
<path d="M1466.4 632.7 L1466.2 630.7 L1465.8 628.8 L1465.1 627.3 L1464.1 626 L1462.9 625.1 L1461.5 624.5 L1459.9 624.3 L1458.2 624.4 L1456.4 625 L1454.5 625.9 L1452.6 627.1 L1450.8 628.7 L1449.1 630.5 L1447.5 632.5 L1446.1 634.8 L1444.9 637.1 L1443.9 639.5 L1443.2 641.9 L1442.8 644.2 L1442.6 646.5 L1442.8 648.5 L1443.2 650.4 L1443.9 651.9 L1444.9 653.2 L1446.1 654.1 L1447.5 654.7 L1449.1 654.9 L1450.8 654.8 L1452.6 654.2 L1454.5 653.3" fill="none" stroke="#111" stroke-width="2.0" stroke-linejoin="round" stroke-linecap="round" />
<path d="M1578.1 723 L1576.1 722.2 L1573.9 721.9 L1571.6 722.1 L1569.1 722.9 L1566.6 724.1 L1564 725.8 L1561.5 727.9 L1559.2 730.4 L1557 733.2 L1555.1 736.3 L1553.4 739.5 L1552.1 742.7 L1551.1 746 L1550.5 749.2 L1550.3 752.3 L1550.5 755.1 L1551.1 757.6 L1552.1 759.8 L1553.4 761.5 L1555.1 762.8 L1594.2 785.4 L1596.1 786.2 L1598.3 786.5 L1600.7 786.3 L1603.2 785.5 L1605.7 784.3 L1608.2 782.6 L1610.7 780.5 L1613.1 778 L1615.3 775.2 L1617.2 772.1 L1618.9 768.9 L1620.2 765.7 L1621.2 762.4 L1621.8 759.2 L1622 756.1 L1621.8 753.3 L1621.2 750.8 L1620.2 748.6 L1618.9 746.9 L1617.2 745.6Z" fill="#b7b7b7" stroke="#111" stroke-width="2.0" stroke-linejoin="round" stroke-linecap="round" />
<path d="M1609.6 742.2 L1607.7 741.6 L1605.7 741.5 L1603.4 741.9 L1601.1 742.7 L1598.7 743.9 L1596.4 745.5 L1594.1 747.6 L1591.9 749.9 L1589.9 752.5 L1588.1 755.3 L1586.5 758.3 L1585.3 761.3 L1584.3 764.4 L1583.7 767.4 L1583.5 770.3 L1583.6 772.9 L1584.1 775.3 L1584.9 777.5 L1586 779.2 L1587.5 780.6" fill="none" stroke="#c4c4c4" stroke-width="1.6" stroke-linejoin="round" stroke-linecap="round" />
<path d="M1611.4 742.9 L1609.4 742.3 L1607.3 742.1 L1605.1 742.4 L1602.7 743.2 L1600.3 744.4 L1597.9 746.1 L1595.5 748.1 L1593.3 750.5 L1591.2 753.2 L1589.4 756.1 L1587.8 759.1 L1586.5 762.2 L1585.6 765.3 L1585 768.4 L1584.7 771.3 L1584.9 774 L1585.4 776.5 L1586.3 778.6 L1587.5 780.4 L1589 781.7" fill="none" stroke="#5e5e5e" stroke-width="0.85" stroke-linejoin="round" stroke-linecap="round" />
<path d="M1603.6 738.7 L1601.7 738.1 L1599.6 738 L1597.4 738.4 L1595.1 739.2 L1592.7 740.4 L1590.3 742.1 L1588 744.1 L1585.9 746.4 L1583.8 749 L1582 751.8 L1580.5 754.8 L1579.2 757.9 L1578.3 760.9 L1577.7 763.9 L1577.5 766.8 L1577.6 769.4 L1578.1 771.9 L1578.9 774 L1580 775.7 L1581.4 777.1" fill="none" stroke="#c4c4c4" stroke-width="1.6" stroke-linejoin="round" stroke-linecap="round" />
<path d="M1605.3 739.4 L1603.4 738.8 L1601.3 738.6 L1599 738.9 L1596.7 739.7 L1594.2 741 L1591.8 742.6 L1589.5 744.7 L1587.2 747 L1585.2 749.7 L1583.3 752.6 L1581.8 755.6 L1580.5 758.7 L1579.5 761.9 L1578.9 764.9 L1578.7 767.8 L1578.9 770.6 L1579.4 773 L1580.2 775.1 L1581.4 776.9 L1582.9 778.2" fill="none" stroke="#5e5e5e" stroke-width="0.85" stroke-linejoin="round" stroke-linecap="round" />
<path d="M1597.6 735.2 L1595.7 734.7 L1593.6 734.5 L1591.4 734.9 L1589 735.7 L1586.7 736.9 L1584.3 738.6 L1582 740.6 L1579.8 742.9 L1577.8 745.5 L1576 748.4 L1574.5 751.3 L1573.2 754.4 L1572.3 757.4 L1571.7 760.4 L1571.4 763.3 L1571.6 766 L1572 768.4 L1572.8 770.5 L1574 772.3 L1575.4 773.6" fill="none" stroke="#c4c4c4" stroke-width="1.6" stroke-linejoin="round" stroke-linecap="round" />
<path d="M1599.3 736 L1597.4 735.3 L1595.3 735.2 L1593 735.5 L1590.6 736.2 L1588.2 737.5 L1585.8 739.1 L1583.4 741.2 L1581.2 743.6 L1579.2 746.2 L1577.3 749.1 L1575.7 752.1 L1574.5 755.3 L1573.5 758.4 L1572.9 761.4 L1572.7 764.4 L1572.8 767.1 L1573.3 769.5 L1574.2 771.6 L1575.4 773.4 L1576.9 774.7" fill="none" stroke="#5e5e5e" stroke-width="0.85" stroke-linejoin="round" stroke-linecap="round" />
<path d="M1591.6 731.7 L1589.7 731.2 L1587.6 731.1 L1585.3 731.4 L1583 732.2 L1580.6 733.5 L1578.3 735.1 L1576 737.1 L1573.8 739.5 L1571.8 742.1 L1570 744.9 L1568.4 747.8 L1567.2 750.9 L1566.3 754 L1565.7 756.9 L1565.4 759.8 L1565.5 762.5 L1566 764.9 L1566.8 767 L1568 768.8 L1569.4 770.1" fill="none" stroke="#c4c4c4" stroke-width="1.6" stroke-linejoin="round" stroke-linecap="round" />
<path d="M1593.3 732.5 L1591.4 731.8 L1589.2 731.7 L1587 732 L1584.6 732.8 L1582.2 734 L1579.8 735.7 L1577.4 737.7 L1575.2 740.1 L1573.1 742.7 L1571.3 745.6 L1569.7 748.7 L1568.4 751.8 L1567.5 754.9 L1566.9 758 L1566.7 760.9 L1566.8 763.6 L1567.3 766 L1568.2 768.2 L1569.4 769.9 L1570.9 771.2" fill="none" stroke="#5e5e5e" stroke-width="0.85" stroke-linejoin="round" stroke-linecap="round" />
<path d="M1585.5 728.3 L1583.6 727.7 L1581.5 727.6 L1579.3 727.9 L1577 728.7 L1574.6 730 L1572.2 731.6 L1569.9 733.6 L1567.8 736 L1565.8 738.6 L1564 741.4 L1562.4 744.4 L1561.2 747.4 L1560.2 750.5 L1559.6 753.5 L1559.4 756.3 L1559.5 759 L1560 761.4 L1560.8 763.5 L1561.9 765.3 L1563.4 766.6" fill="none" stroke="#c4c4c4" stroke-width="1.6" stroke-linejoin="round" stroke-linecap="round" />
<path d="M1587.2 729 L1585.3 728.4 L1583.2 728.2 L1580.9 728.5 L1578.6 729.3 L1576.2 730.5 L1573.7 732.2 L1571.4 734.2 L1569.2 736.6 L1567.1 739.3 L1565.3 742.2 L1563.7 745.2 L1562.4 748.3 L1561.5 751.4 L1560.9 754.5 L1560.6 757.4 L1560.8 760.1 L1561.3 762.6 L1562.1 764.7 L1563.3 766.4 L1564.9 767.8" fill="none" stroke="#5e5e5e" stroke-width="0.85" stroke-linejoin="round" stroke-linecap="round" />
<path d="M1579.5 724.8 L1577.6 724.2 L1575.5 724.1 L1573.3 724.4 L1570.9 725.3 L1568.6 726.5 L1566.2 728.1 L1563.9 730.2 L1561.7 732.5 L1559.7 735.1 L1557.9 737.9 L1556.4 740.9 L1555.1 743.9 L1554.2 747 L1553.6 750 L1553.4 752.9 L1553.5 755.5 L1553.9 757.9 L1554.8 760.1 L1555.9 761.8 L1557.3 763.2" fill="none" stroke="#c4c4c4" stroke-width="1.6" stroke-linejoin="round" stroke-linecap="round" />
<path d="M1581.2 725.5 L1579.3 724.9 L1577.2 724.7 L1574.9 725 L1572.5 725.8 L1570.1 727 L1567.7 728.7 L1565.4 730.7 L1563.1 733.1 L1561.1 735.8 L1559.2 738.7 L1557.7 741.7 L1556.4 744.8 L1555.4 747.9 L1554.8 751 L1554.6 753.9 L1554.7 756.6 L1555.3 759.1 L1556.1 761.2 L1557.3 763 L1558.8 764.3" fill="none" stroke="#5e5e5e" stroke-width="0.85" stroke-linejoin="round" stroke-linecap="round" />
<ellipse cx="1605.7" cy="765.5" rx="22.5" ry="13" transform="rotate(-60 1605.7 765.5)" fill="#bcbcbc" stroke="#333" stroke-width="0.8" />
<path d="M1594.2 785.4 L1596.1 786.2 L1598.3 786.5 L1600.7 786.3 L1603.2 785.5 L1605.7 784.3 L1608.2 782.6 L1610.7 780.5 L1613.1 778 L1615.3 775.2 L1617.2 772.1 L1618.9 768.9 L1620.2 765.7 L1621.2 762.4 L1621.8 759.2 L1622 756.1 L1621.8 753.3 L1621.2 750.8 L1620.2 748.6 L1618.9 746.9 L1617.2 745.6" fill="none" stroke="#111" stroke-width="2.0" stroke-linejoin="round" stroke-linecap="round" />
<ellipse cx="1605.7" cy="765.5" rx="19" ry="11" transform="rotate(-60 1605.7 765.5)" fill="none" stroke="#666" stroke-width="0.6" />
<ellipse cx="1605.7" cy="765.5" rx="16.8" ry="9.7" transform="rotate(-60 1605.7 765.5)" fill="#8d8d8d" stroke="#111" stroke-width="1.0" />
<path d="M1617.6 758.6 L1617.4 756.6 L1617 754.7 L1616.3 753.2 L1615.3 751.9 L1614.1 751 L1612.7 750.4 L1611.1 750.2 L1609.4 750.3 L1607.6 750.9 L1605.7 751.8 L1603.8 753 L1602 754.6 L1600.3 756.4 L1598.7 758.4 L1597.3 760.7 L1596.1 763 L1595.1 765.4 L1594.4 767.8 L1594 770.1 L1593.8 772.4 L1594 774.4 L1594.4 776.3 L1595.1 777.8 L1596.1 779.1 L1597.3 780 L1598.7 780.6 L1600.3 780.8 L1602 780.7 L1603.8 780.1 L1605.7 779.2" fill="none" stroke="#111" stroke-width="2.0" stroke-linejoin="round" stroke-linecap="round" />
<path d="M1312.3 825.5 L1310.3 824.7 L1308.1 824.4 L1305.8 824.6 L1303.3 825.4 L1300.8 826.6 L1298.2 828.3 L1295.7 830.4 L1293.4 832.9 L1291.2 835.7 L1289.3 838.8 L1287.6 842 L1286.3 845.2 L1285.3 848.5 L1284.7 851.7 L1284.5 854.8 L1284.7 857.6 L1285.3 860.1 L1286.3 862.3 L1287.6 864 L1289.3 865.3 L1328.4 887.9 L1330.3 888.7 L1332.5 889 L1334.9 888.8 L1337.4 888 L1339.9 886.8 L1342.4 885.1 L1344.9 883 L1347.3 880.5 L1349.5 877.7 L1351.4 874.6 L1353.1 871.4 L1354.4 868.2 L1355.4 864.9 L1356 861.7 L1356.2 858.6 L1356 855.8 L1355.4 853.3 L1354.4 851.1 L1353.1 849.4 L1351.4 848.1Z" fill="#b7b7b7" stroke="#111" stroke-width="2.0" stroke-linejoin="round" stroke-linecap="round" />
<path d="M1343.8 844.7 L1341.9 844.1 L1339.9 844 L1337.6 844.4 L1335.3 845.2 L1332.9 846.4 L1330.6 848 L1328.3 850.1 L1326.1 852.4 L1324.1 855 L1322.3 857.8 L1320.7 860.8 L1319.5 863.8 L1318.5 866.9 L1317.9 869.9 L1317.7 872.8 L1317.8 875.4 L1318.3 877.8 L1319.1 880 L1320.2 881.7 L1321.7 883.1" fill="none" stroke="#c4c4c4" stroke-width="1.6" stroke-linejoin="round" stroke-linecap="round" />
<path d="M1345.6 845.4 L1343.6 844.8 L1341.5 844.6 L1339.3 844.9 L1336.9 845.7 L1334.5 846.9 L1332.1 848.6 L1329.7 850.6 L1327.5 853 L1325.4 855.7 L1323.6 858.6 L1322 861.6 L1320.7 864.7 L1319.8 867.8 L1319.2 870.9 L1318.9 873.8 L1319.1 876.5 L1319.6 879 L1320.5 881.1 L1321.7 882.9 L1323.2 884.2" fill="none" stroke="#5e5e5e" stroke-width="0.85" stroke-linejoin="round" stroke-linecap="round" />
<path d="M1337.8 841.2 L1335.9 840.6 L1333.8 840.5 L1331.6 840.9 L1329.3 841.7 L1326.9 842.9 L1324.5 844.6 L1322.2 846.6 L1320.1 848.9 L1318 851.5 L1316.2 854.3 L1314.7 857.3 L1313.4 860.4 L1312.5 863.4 L1311.9 866.4 L1311.7 869.3 L1311.8 871.9 L1312.3 874.4 L1313.1 876.5 L1314.2 878.2 L1315.6 879.6" fill="none" stroke="#c4c4c4" stroke-width="1.6" stroke-linejoin="round" stroke-linecap="round" />
<path d="M1339.5 841.9 L1337.6 841.3 L1335.5 841.1 L1333.2 841.4 L1330.9 842.2 L1328.4 843.5 L1326 845.1 L1323.7 847.2 L1321.4 849.5 L1319.4 852.2 L1317.5 855.1 L1316 858.1 L1314.7 861.2 L1313.7 864.4 L1313.1 867.4 L1312.9 870.3 L1313.1 873.1 L1313.6 875.5 L1314.4 877.6 L1315.6 879.4 L1317.1 880.7" fill="none" stroke="#5e5e5e" stroke-width="0.85" stroke-linejoin="round" stroke-linecap="round" />
<path d="M1331.8 837.7 L1329.9 837.2 L1327.8 837 L1325.6 837.4 L1323.2 838.2 L1320.9 839.4 L1318.5 841.1 L1316.2 843.1 L1314 845.4 L1312 848 L1310.2 850.9 L1308.7 853.8 L1307.4 856.9 L1306.5 859.9 L1305.9 862.9 L1305.6 865.8 L1305.8 868.5 L1306.2 870.9 L1307 873 L1308.2 874.8 L1309.6 876.1" fill="none" stroke="#c4c4c4" stroke-width="1.6" stroke-linejoin="round" stroke-linecap="round" />
<path d="M1333.5 838.5 L1331.6 837.8 L1329.5 837.7 L1327.2 838 L1324.8 838.7 L1322.4 840 L1320 841.6 L1317.6 843.7 L1315.4 846.1 L1313.4 848.7 L1311.5 851.6 L1309.9 854.6 L1308.7 857.8 L1307.7 860.9 L1307.1 863.9 L1306.9 866.9 L1307 869.6 L1307.5 872 L1308.4 874.1 L1309.6 875.9 L1311.1 877.2" fill="none" stroke="#5e5e5e" stroke-width="0.85" stroke-linejoin="round" stroke-linecap="round" />
<path d="M1325.8 834.2 L1323.9 833.7 L1321.8 833.6 L1319.5 833.9 L1317.2 834.7 L1314.8 836 L1312.5 837.6 L1310.2 839.6 L1308 842 L1306 844.6 L1304.2 847.4 L1302.6 850.3 L1301.4 853.4 L1300.5 856.5 L1299.9 859.4 L1299.6 862.3 L1299.7 865 L1300.2 867.4 L1301 869.5 L1302.2 871.3 L1303.6 872.6" fill="none" stroke="#c4c4c4" stroke-width="1.6" stroke-linejoin="round" stroke-linecap="round" />
<path d="M1327.5 835 L1325.6 834.3 L1323.4 834.2 L1321.2 834.5 L1318.8 835.3 L1316.4 836.5 L1314 838.2 L1311.6 840.2 L1309.4 842.6 L1307.3 845.2 L1305.5 848.1 L1303.9 851.2 L1302.6 854.3 L1301.7 857.4 L1301.1 860.5 L1300.9 863.4 L1301 866.1 L1301.5 868.5 L1302.4 870.7 L1303.6 872.4 L1305.1 873.7" fill="none" stroke="#5e5e5e" stroke-width="0.85" stroke-linejoin="round" stroke-linecap="round" />
<path d="M1319.7 830.8 L1317.8 830.2 L1315.7 830.1 L1313.5 830.4 L1311.2 831.2 L1308.8 832.5 L1306.4 834.1 L1304.1 836.1 L1302 838.5 L1300 841.1 L1298.2 843.9 L1296.6 846.9 L1295.4 849.9 L1294.4 853 L1293.8 856 L1293.6 858.8 L1293.7 861.5 L1294.2 863.9 L1295 866 L1296.1 867.8 L1297.6 869.1" fill="none" stroke="#c4c4c4" stroke-width="1.6" stroke-linejoin="round" stroke-linecap="round" />
<path d="M1321.4 831.5 L1319.5 830.9 L1317.4 830.7 L1315.1 831 L1312.8 831.8 L1310.4 833 L1307.9 834.7 L1305.6 836.7 L1303.4 839.1 L1301.3 841.8 L1299.5 844.7 L1297.9 847.7 L1296.6 850.8 L1295.7 853.9 L1295.1 857 L1294.8 859.9 L1295 862.6 L1295.5 865.1 L1296.3 867.2 L1297.5 868.9 L1299.1 870.3" fill="none" stroke="#5e5e5e" stroke-width="0.85" stroke-linejoin="round" stroke-linecap="round" />
<path d="M1313.7 827.3 L1311.8 826.7 L1309.7 826.6 L1307.5 826.9 L1305.1 827.8 L1302.8 829 L1300.4 830.6 L1298.1 832.7 L1295.9 835 L1293.9 837.6 L1292.1 840.4 L1290.6 843.4 L1289.3 846.4 L1288.4 849.5 L1287.8 852.5 L1287.6 855.4 L1287.7 858 L1288.1 860.4 L1289 862.6 L1290.1 864.3 L1291.5 865.7" fill="none" stroke="#c4c4c4" stroke-width="1.6" stroke-linejoin="round" stroke-linecap="round" />
<path d="M1315.4 828 L1313.5 827.4 L1311.4 827.2 L1309.1 827.5 L1306.7 828.3 L1304.3 829.5 L1301.9 831.2 L1299.6 833.2 L1297.3 835.6 L1295.3 838.3 L1293.4 841.2 L1291.9 844.2 L1290.6 847.3 L1289.6 850.4 L1289 853.5 L1288.8 856.4 L1288.9 859.1 L1289.5 861.6 L1290.3 863.7 L1291.5 865.5 L1293 866.8" fill="none" stroke="#5e5e5e" stroke-width="0.85" stroke-linejoin="round" stroke-linecap="round" />
<ellipse cx="1339.9" cy="868" rx="22.5" ry="13" transform="rotate(-60 1339.9 868)" fill="#bcbcbc" stroke="#333" stroke-width="0.8" />
<path d="M1328.4 887.9 L1330.3 888.7 L1332.5 889 L1334.9 888.8 L1337.4 888 L1339.9 886.8 L1342.4 885.1 L1344.9 883 L1347.3 880.5 L1349.5 877.7 L1351.4 874.6 L1353.1 871.4 L1354.4 868.2 L1355.4 864.9 L1356 861.7 L1356.2 858.6 L1356 855.8 L1355.4 853.3 L1354.4 851.1 L1353.1 849.4 L1351.4 848.1" fill="none" stroke="#111" stroke-width="2.0" stroke-linejoin="round" stroke-linecap="round" />
<ellipse cx="1339.9" cy="868" rx="19" ry="11" transform="rotate(-60 1339.9 868)" fill="none" stroke="#666" stroke-width="0.6" />
<ellipse cx="1339.9" cy="868" rx="16.8" ry="9.7" transform="rotate(-60 1339.9 868)" fill="#8d8d8d" stroke="#111" stroke-width="1.0" />
<path d="M1351.8 861.1 L1351.6 859.1 L1351.2 857.2 L1350.5 855.7 L1349.5 854.4 L1348.3 853.5 L1346.9 852.9 L1345.3 852.7 L1343.6 852.8 L1341.8 853.4 L1339.9 854.3 L1338 855.5 L1336.2 857.1 L1334.5 858.9 L1332.9 860.9 L1331.5 863.2 L1330.3 865.5 L1329.3 867.9 L1328.6 870.3 L1328.2 872.6 L1328 874.9 L1328.2 876.9 L1328.6 878.8 L1329.3 880.3 L1330.3 881.6 L1331.5 882.5 L1332.9 883.1 L1334.5 883.3 L1336.2 883.2 L1338 882.6 L1339.9 881.7" fill="none" stroke="#111" stroke-width="2.0" stroke-linejoin="round" stroke-linecap="round" />
<path d="M534.3 535.4 L532 534.5 L529.5 534.2 L526.8 534.4 L523.9 535.3 L520.9 536.7 L518 538.7 L515.1 541.2 L512.4 544.1 L509.8 547.3 L507.6 550.8 L505.7 554.6 L504.1 558.4 L503 562.2 L502.3 565.9 L502.1 569.5 L502.3 572.7 L503 575.7 L504.1 578.2 L505.7 580.2 L507.6 581.7 L560.9 612.4 L563.1 613.3 L565.6 613.7 L568.4 613.4 L571.2 612.5 L574.2 611.1 L577.2 609.1 L580 606.7 L582.8 603.8 L585.3 600.5 L587.6 597 L589.5 593.3 L591 589.5 L592.2 585.7 L592.8 581.9 L593.1 578.4 L592.8 575.1 L592.2 572.2 L591 569.7 L589.5 567.7 L587.6 566.2Z" fill="#b7b7b7" stroke="#111" stroke-width="2.0" stroke-linejoin="round" stroke-linecap="round" />
<path d="M579.6 562.6 L577.4 561.9 L575 561.8 L572.4 562.2 L569.7 563.1 L566.9 564.6 L564.1 566.5 L561.5 568.9 L558.9 571.6 L556.6 574.6 L554.5 577.9 L552.7 581.4 L551.2 584.9 L550.1 588.5 L549.4 592 L549.1 595.3 L549.3 598.5 L549.8 601.3 L550.8 603.7 L552.1 605.8 L553.8 607.4" fill="none" stroke="#c4c4c4" stroke-width="1.6" stroke-linejoin="round" stroke-linecap="round" />
<path d="M581.4 563.3 L579.2 562.6 L576.7 562.4 L574.1 562.8 L571.3 563.7 L568.5 565.1 L565.7 567 L562.9 569.4 L560.3 572.2 L557.9 575.3 L555.8 578.7 L553.9 582.2 L552.5 585.8 L551.4 589.5 L550.7 593 L550.4 596.4 L550.6 599.6 L551.1 602.5 L552.2 604.9 L553.6 607 L555.3 608.5" fill="none" stroke="#5e5e5e" stroke-width="0.85" stroke-linejoin="round" stroke-linecap="round" />
<path d="M573.3 558.9 L571.1 558.3 L568.7 558.1 L566.1 558.6 L563.4 559.5 L560.6 560.9 L557.8 562.9 L555.2 565.2 L552.6 567.9 L550.3 571 L548.2 574.3 L546.4 577.7 L544.9 581.3 L543.8 584.9 L543.1 588.3 L542.8 591.7 L543 594.8 L543.5 597.6 L544.5 600.1 L545.8 602.1 L547.5 603.7" fill="none" stroke="#c4c4c4" stroke-width="1.6" stroke-linejoin="round" stroke-linecap="round" />
<path d="M575.1 559.7 L572.9 558.9 L570.4 558.8 L567.7 559.1 L565 560 L562.2 561.5 L559.3 563.4 L556.6 565.8 L554 568.6 L551.6 571.7 L549.5 575 L547.6 578.6 L546.1 582.2 L545 585.8 L544.3 589.4 L544.1 592.8 L544.2 596 L544.8 598.8 L545.8 601.3 L547.2 603.3 L549 604.9" fill="none" stroke="#5e5e5e" stroke-width="0.85" stroke-linejoin="round" stroke-linecap="round" />
<path d="M567 555.3 L564.8 554.6 L562.4 554.5 L559.8 554.9 L557 555.8 L554.3 557.3 L551.5 559.2 L548.8 561.6 L546.3 564.3 L544 567.3 L541.9 570.6 L540.1 574.1 L538.6 577.6 L537.5 581.2 L536.8 584.7 L536.5 588 L536.6 591.2 L537.2 594 L538.1 596.4 L539.5 598.5 L541.2 600.1" fill="none" stroke="#c4c4c4" stroke-width="1.6" stroke-linejoin="round" stroke-linecap="round" />
<path d="M568.8 556 L566.5 555.3 L564.1 555.1 L561.4 555.5 L558.7 556.4 L555.8 557.8 L553 559.8 L550.3 562.1 L547.7 564.9 L545.3 568 L543.2 571.4 L541.3 574.9 L539.8 578.5 L538.7 582.2 L538 585.7 L537.8 589.1 L537.9 592.3 L538.5 595.2 L539.5 597.6 L540.9 599.7 L542.7 601.2" fill="none" stroke="#5e5e5e" stroke-width="0.85" stroke-linejoin="round" stroke-linecap="round" />
<path d="M560.7 551.6 L558.5 551 L556 550.9 L553.4 551.3 L550.7 552.2 L548 553.6 L545.2 555.6 L542.5 557.9 L540 560.6 L537.6 563.7 L535.5 567 L533.7 570.4 L532.3 574 L531.2 577.6 L530.5 581.1 L530.2 584.4 L530.3 587.5 L530.9 590.3 L531.8 592.8 L533.2 594.8 L534.8 596.4" fill="none" stroke="#c4c4c4" stroke-width="1.6" stroke-linejoin="round" stroke-linecap="round" />
<path d="M562.4 552.4 L560.2 551.7 L557.8 551.5 L555.1 551.8 L552.4 552.7 L549.5 554.2 L546.7 556.1 L544 558.5 L541.4 561.3 L539 564.4 L536.8 567.7 L535 571.3 L533.5 574.9 L532.4 578.5 L531.7 582.1 L531.4 585.5 L531.6 588.7 L532.2 591.5 L533.2 594 L534.6 596 L536.4 597.6" fill="none" stroke="#5e5e5e" stroke-width="0.85" stroke-linejoin="round" stroke-linecap="round" />
<path d="M554.4 548 L552.2 547.3 L549.7 547.2 L547.1 547.6 L544.4 548.6 L541.6 550 L538.9 551.9 L536.2 554.3 L533.7 557 L531.3 560 L529.2 563.3 L527.4 566.8 L526 570.3 L524.9 573.9 L524.2 577.4 L523.9 580.8 L524 583.9 L524.6 586.7 L525.5 589.2 L526.8 591.2 L528.5 592.8" fill="none" stroke="#c4c4c4" stroke-width="1.6" stroke-linejoin="round" stroke-linecap="round" />
<path d="M556.1 548.8 L553.9 548 L551.4 547.8 L548.8 548.2 L546 549.1 L543.2 550.5 L540.4 552.5 L537.7 554.8 L535.1 557.6 L532.7 560.7 L530.5 564.1 L528.7 567.6 L527.2 571.2 L526.1 574.9 L525.4 578.4 L525.1 581.9 L525.3 585 L525.9 587.9 L526.9 590.3 L528.3 592.4 L530.1 593.9" fill="none" stroke="#5e5e5e" stroke-width="0.85" stroke-linejoin="round" stroke-linecap="round" />
<path d="M548.1 544.4 L545.9 543.7 L543.4 543.6 L540.8 544 L538.1 544.9 L535.3 546.4 L532.6 548.3 L529.9 550.6 L527.4 553.4 L525 556.4 L522.9 559.7 L521.1 563.1 L519.6 566.7 L518.6 570.3 L517.9 573.8 L517.6 577.1 L517.7 580.2 L518.2 583 L519.2 585.5 L520.5 587.6 L522.2 589.1" fill="none" stroke="#c4c4c4" stroke-width="1.6" stroke-linejoin="round" stroke-linecap="round" />
<path d="M549.8 545.1 L547.6 544.4 L545.1 544.2 L542.5 544.5 L539.7 545.4 L536.9 546.9 L534.1 548.8 L531.3 551.2 L528.7 554 L526.4 557.1 L524.2 560.4 L522.4 564 L520.9 567.6 L519.8 571.2 L519.1 574.8 L518.8 578.2 L519 581.4 L519.6 584.2 L520.6 586.7 L522 588.7 L523.7 590.3" fill="none" stroke="#5e5e5e" stroke-width="0.85" stroke-linejoin="round" stroke-linecap="round" />
<path d="M541.7 540.7 L539.5 540 L537.1 539.9 L534.5 540.3 L531.8 541.3 L529 542.7 L526.3 544.6 L523.6 547 L521 549.7 L518.7 552.8 L516.6 556 L514.8 559.5 L513.3 563.1 L512.2 566.6 L511.5 570.1 L511.3 573.5 L511.4 576.6 L511.9 579.4 L512.9 581.9 L514.2 583.9 L515.9 585.5" fill="none" stroke="#c4c4c4" stroke-width="1.6" stroke-linejoin="round" stroke-linecap="round" />
<path d="M543.5 541.5 L541.3 540.7 L538.8 540.5 L536.2 540.9 L533.4 541.8 L530.6 543.2 L527.8 545.2 L525 547.6 L522.4 550.3 L520 553.4 L517.9 556.8 L516.1 560.3 L514.6 564 L513.5 567.6 L512.8 571.2 L512.5 574.6 L512.7 577.7 L513.3 580.6 L514.3 583 L515.7 585.1 L517.4 586.6" fill="none" stroke="#5e5e5e" stroke-width="0.85" stroke-linejoin="round" stroke-linecap="round" />
<path d="M535.4 537.1 L533.2 536.4 L530.8 536.3 L528.2 536.7 L525.5 537.6 L522.7 539.1 L519.9 541 L517.3 543.3 L514.7 546.1 L512.4 549.1 L510.3 552.4 L508.5 555.9 L507 559.4 L505.9 563 L505.2 566.5 L504.9 569.8 L505.1 572.9 L505.6 575.8 L506.6 578.2 L507.9 580.3 L509.6 581.8" fill="none" stroke="#c4c4c4" stroke-width="1.6" stroke-linejoin="round" stroke-linecap="round" />
<path d="M537.2 537.8 L535 537.1 L532.5 536.9 L529.9 537.2 L527.1 538.2 L524.3 539.6 L521.5 541.5 L518.7 543.9 L516.1 546.7 L513.7 549.8 L511.6 553.1 L509.7 556.7 L508.3 560.3 L507.1 563.9 L506.5 567.5 L506.2 570.9 L506.4 574.1 L506.9 576.9 L508 579.4 L509.3 581.4 L511.1 583" fill="none" stroke="#5e5e5e" stroke-width="0.85" stroke-linejoin="round" stroke-linecap="round" />
<ellipse cx="574.2" cy="589.3" rx="26.2" ry="15.1" transform="rotate(-60 574.2 589.3)" fill="#bcbcbc" stroke="#333" stroke-width="0.8" />
<path d="M560.9 612.4 L563.1 613.3 L565.6 613.7 L568.4 613.4 L571.2 612.5 L574.2 611.1 L577.2 609.1 L580 606.7 L582.8 603.8 L585.3 600.5 L587.6 597 L589.5 593.3 L591 589.5 L592.2 585.7 L592.8 581.9 L593.1 578.4 L592.8 575.1 L592.2 572.2 L591 569.7 L589.5 567.7 L587.6 566.2" fill="none" stroke="#111" stroke-width="2.0" stroke-linejoin="round" stroke-linecap="round" />
<ellipse cx="574.2" cy="589.3" rx="22.7" ry="13.1" transform="rotate(-60 574.2 589.3)" fill="none" stroke="#666" stroke-width="0.6" />
<ellipse cx="574.2" cy="589.3" rx="20.5" ry="11.8" transform="rotate(-60 574.2 589.3)" fill="#8d8d8d" stroke="#111" stroke-width="1.0" />
<path d="M588.7 580.9 L588.5 578.4 L588 576.2 L587.1 574.2 L585.9 572.7 L584.5 571.5 L582.7 570.8 L580.8 570.6 L578.7 570.8 L576.5 571.5 L574.2 572.6 L571.9 574.1 L569.7 576 L567.6 578.2 L565.7 580.7 L564 583.4 L562.5 586.2 L561.3 589.2 L560.4 592.1 L559.9 594.9 L559.7 597.7 L559.9 600.2 L560.4 602.4 L561.3 604.4 L562.5 605.9 L564 607.1 L565.7 607.8 L567.6 608 L569.7 607.8 L571.9 607.1 L574.2 606" fill="none" stroke="#111" stroke-width="2.0" stroke-linejoin="round" stroke-linecap="round" />
<path d="M584.4 454.8 L582.9 454.1 L581.2 453.7 L579.4 453.6 L577.5 453.7 L575.6 454.2 L573.6 454.9 L571.6 455.9 L569.5 457.1 L567.6 458.6 L565.6 460.3 L563.8 462.3 L562 464.4 L560.4 466.6 L558.9 469 L557.6 471.5 L556.5 474 L555.5 476.6 L554.8 479.1 L554.3 481.7 L554 484.1 L553.9 486.5 L554 488.7 L554.4 490.8 L555 492.8 L555.8 494.5 L556.8 495.9 L558 497.2 L559.4 498.2 L577.1 509.5 L578.9 510.3 L580.9 510.7 L583.1 510.7 L585.3 510.3 L587.7 509.4 L590.1 508.2 L592.5 506.7 L594.9 504.8 L597.1 502.6 L599.3 500.1 L601.3 497.4 L603.1 494.5 L604.7 491.5 L606 488.4 L607.1 485.3 L607.9 482.2 L608.3 479.2 L608.5 476.4 L608.3 473.7 L607.9 471.3 L607.1 469.1 L606 467.2 L604.7 465.7 L603.1 464.5Z" fill="#7f7f7f" stroke="#111" stroke-width="2.0" stroke-linejoin="round" stroke-linecap="round" />
<ellipse cx="590.1" cy="487" rx="25.4" ry="14.7" transform="rotate(-60 590.1 487)" fill="#878787" stroke="#222" stroke-width="0.9" />
<ellipse cx="591.3" cy="487.7" rx="22" ry="12.7" transform="rotate(-60 591.3 487.7)" fill="#8b8b8b" stroke="#333" stroke-width="0.8" />
<path d="M577.1 509.5 L579.3 510.4 L581.8 510.7 L584.4 510.5 L587.2 509.6 L590.1 508.2 L593 506.3 L595.8 503.9 L598.4 501.1 L600.9 497.9 L603.1 494.5 L605 490.9 L606.5 487.2 L607.6 483.5 L608.3 479.8 L608.5 476.4 L608.3 473.2 L607.6 470.3 L606.5 467.9 L605 465.9 L603.1 464.5" fill="none" stroke="#111" stroke-width="2.0" stroke-linejoin="round" stroke-linecap="round" />
<line x1="1186" y1="315.5" x2="1200" y2="307.4" stroke="#fff" stroke-width="3.8" stroke-linecap="round"/>
<line x1="1186" y1="315.5" x2="1200" y2="307.4" stroke="#777" stroke-width="0.9" />
<line x1="1294.5" y1="448.5" x2="1308" y2="440.5" stroke="#fff" stroke-width="3.8" stroke-linecap="round"/>
<line x1="1294.5" y1="448.5" x2="1308" y2="440.5" stroke="#777" stroke-width="0.9" />
<line x1="591.4" y1="488.4" x2="606.5" y2="493.7" stroke="#fff" stroke-width="3.8" stroke-linecap="round"/>
<line x1="591.4" y1="488.4" x2="606.5" y2="493.7" stroke="#777" stroke-width="0.9" />
<line x1="575.7" y1="590.5" x2="587" y2="597" stroke="#fff" stroke-width="3.8" stroke-linecap="round"/>
<line x1="575.7" y1="590.5" x2="587" y2="597" stroke="#777" stroke-width="0.9" />
<path d="M819.3 945.6 A38 22 0 0 0 895.3 945.6 L895.3 949.8 A38 22 0 0 1 819.3 949.8 Z" fill="#9a9a9a" stroke="#111" stroke-width="1.6" stroke-linejoin="round" stroke-linecap="round" />
<path d="M819.3 945.6 A38 22 0 1 0 895.3 945.6 A38 22 0 1 0 819.3 945.6 Z M829 947.9 A28.3 14.6 0 1 1 885.6 947.9 A28.3 14.6 0 1 1 829 947.9 Z" fill="#b2b2b2" stroke="#111" stroke-width="1.5" stroke-linejoin="round" stroke-linecap="round" fill-rule="evenodd"/>
<path d="M829 947.9 A28.3 14.6 0 0 1 885.6 947.9 A28.3 10.804 0 0 0 829 947.9 Z" fill="#8d8d8d" stroke="#333" stroke-width="0.7" stroke-linejoin="round" stroke-linecap="round" />
<path d="M944.5 980.3 A38 22 0 0 0 1020.5 980.3 L1020.5 984.5 A38 22 0 0 1 944.5 984.5 Z" fill="#9a9a9a" stroke="#111" stroke-width="1.6" stroke-linejoin="round" stroke-linecap="round" />
<path d="M944.5 980.3 A38 22 0 1 0 1020.5 980.3 A38 22 0 1 0 944.5 980.3 Z M954.2 982.6 A28.3 14.6 0 1 1 1010.8 982.6 A28.3 14.6 0 1 1 954.2 982.6 Z" fill="#b2b2b2" stroke="#111" stroke-width="1.5" stroke-linejoin="round" stroke-linecap="round" fill-rule="evenodd"/>
<path d="M954.2 982.6 A28.3 14.6 0 0 1 1010.8 982.6 A28.3 10.804 0 0 0 954.2 982.6 Z" fill="#8d8d8d" stroke="#333" stroke-width="0.7" stroke-linejoin="round" stroke-linecap="round" />
<path d="M822.9 1045.7 A34 19.0 0 0 0 890.9 1045.7 L890.9 1050.7 A34 19.0 0 0 1 822.9 1050.7 Z" fill="#9d9d9d" stroke="#111" stroke-width="2.2" stroke-linejoin="round" stroke-linecap="round" />
<ellipse cx="856.9" cy="1045.7" rx="34" ry="19.0" fill="#b3b3b3" stroke="#111" stroke-width="1.4"/>
<ellipse cx="856.9" cy="1044.7" rx="30" ry="16.5" fill="none" stroke="#555" stroke-width="0.8"/>
<path d="M829.4 1014.2 L829.4 1042.2 A27.5 14.5 0 0 0 884.4 1042.2 L884.4 1014.2 A27.5 14.5 0 0 0 829.4 1014.2 Z" fill="#a9a9a9" stroke="#111" stroke-width="1.5" stroke-linejoin="round" stroke-linecap="round" />
<path d="M829.4 1018.5 A27.5 14.5 0 0 0 884.4 1018.5" fill="none" stroke="#666" stroke-width="0.8" stroke-linejoin="round" stroke-linecap="round" />
<path d="M829.4 1022.8 A27.5 14.5 0 0 0 884.4 1022.8" fill="none" stroke="#666" stroke-width="0.8" stroke-linejoin="round" stroke-linecap="round" />
<path d="M829.4 1027.1 A27.5 14.5 0 0 0 884.4 1027.1" fill="none" stroke="#666" stroke-width="0.8" stroke-linejoin="round" stroke-linecap="round" />
<path d="M829.4 1031.4 A27.5 14.5 0 0 0 884.4 1031.4" fill="none" stroke="#666" stroke-width="0.8" stroke-linejoin="round" stroke-linecap="round" />
<path d="M829.4 1035.7 A27.5 14.5 0 0 0 884.4 1035.7" fill="none" stroke="#666" stroke-width="0.8" stroke-linejoin="round" stroke-linecap="round" />
<path d="M829.4 1040 A27.5 14.5 0 0 0 884.4 1040" fill="none" stroke="#666" stroke-width="0.8" stroke-linejoin="round" stroke-linecap="round" />
<ellipse cx="856.9" cy="1014.2" rx="27.5" ry="14.5" fill="#b1b1b1" stroke="#111" stroke-width="1.3"/>
<path d="M948.4 1060.7 A34 19.0 0 0 0 1016.4 1060.7 L1016.4 1065.7 A34 19.0 0 0 1 948.4 1065.7 Z" fill="#9d9d9d" stroke="#111" stroke-width="2.2" stroke-linejoin="round" stroke-linecap="round" />
<ellipse cx="982.4" cy="1060.7" rx="34" ry="19.0" fill="#b3b3b3" stroke="#111" stroke-width="1.4"/>
<ellipse cx="982.4" cy="1059.7" rx="30" ry="16.5" fill="none" stroke="#555" stroke-width="0.8"/>
<path d="M954.9 1029.2 L954.9 1057.2 A27.5 14.5 0 0 0 1009.9 1057.2 L1009.9 1029.2 A27.5 14.5 0 0 0 954.9 1029.2 Z" fill="#a9a9a9" stroke="#111" stroke-width="1.5" stroke-linejoin="round" stroke-linecap="round" />
<path d="M954.9 1033.5 A27.5 14.5 0 0 0 1009.9 1033.5" fill="none" stroke="#666" stroke-width="0.8" stroke-linejoin="round" stroke-linecap="round" />
<path d="M954.9 1037.8 A27.5 14.5 0 0 0 1009.9 1037.8" fill="none" stroke="#666" stroke-width="0.8" stroke-linejoin="round" stroke-linecap="round" />
<path d="M954.9 1042.1 A27.5 14.5 0 0 0 1009.9 1042.1" fill="none" stroke="#666" stroke-width="0.8" stroke-linejoin="round" stroke-linecap="round" />
<path d="M954.9 1046.4 A27.5 14.5 0 0 0 1009.9 1046.4" fill="none" stroke="#666" stroke-width="0.8" stroke-linejoin="round" stroke-linecap="round" />
<path d="M954.9 1050.7 A27.5 14.5 0 0 0 1009.9 1050.7" fill="none" stroke="#666" stroke-width="0.8" stroke-linejoin="round" stroke-linecap="round" />
<path d="M954.9 1055 A27.5 14.5 0 0 0 1009.9 1055" fill="none" stroke="#666" stroke-width="0.8" stroke-linejoin="round" stroke-linecap="round" />
<ellipse cx="982.4" cy="1029.2" rx="27.5" ry="14.5" fill="#b1b1b1" stroke="#111" stroke-width="1.3"/>
<line x1="857" y1="1000" x2="857" y2="1012" stroke="#fff" stroke-width="3.8" stroke-linecap="round"/>
<line x1="857" y1="1000" x2="857" y2="1012" stroke="#777" stroke-width="0.9" />
<line x1="982" y1="1015" x2="982" y2="1027" stroke="#fff" stroke-width="3.8" stroke-linecap="round"/>
<line x1="982" y1="1015" x2="982" y2="1027" stroke="#777" stroke-width="0.9" />
<line x1="857" y1="925" x2="857" y2="948" stroke="#fff" stroke-width="3" />
<line x1="857" y1="925" x2="857" y2="948" stroke="#666" stroke-width="0.9" />
<line x1="982" y1="960" x2="982" y2="983" stroke="#fff" stroke-width="3" />
<line x1="982" y1="960" x2="982" y2="983" stroke="#666" stroke-width="0.9" />
<line x1="669" y1="267" x2="749" y2="336" stroke="#5a5a5a" stroke-width="1" />
<line x1="1258" y1="297.5" x2="1366" y2="311.5" stroke="#5a5a5a" stroke-width="1" />
<line x1="1368" y1="433" x2="1454" y2="452" stroke="#5a5a5a" stroke-width="1" />
<line x1="466" y1="418" x2="543" y2="470.5" stroke="#5a5a5a" stroke-width="1" />
<line x1="400.5" y1="493" x2="494" y2="547.5" stroke="#5a5a5a" stroke-width="1" />
<line x1="364" y1="684.5" x2="480.5" y2="710.5" stroke="#5a5a5a" stroke-width="1" />
<line x1="528.8" y1="800.3" x2="610.7" y2="818.3" stroke="#5a5a5a" stroke-width="1" />
<line x1="1479.5" y1="635.5" x2="1601" y2="623" stroke="#5a5a5a" stroke-width="1" />
<line x1="1627.5" y1="759" x2="1746" y2="746" stroke="#5a5a5a" stroke-width="1" />
<line x1="1361.2" y1="845.5" x2="1472.2" y2="839.5" stroke="#5a5a5a" stroke-width="1" />
<line x1="1028" y1="994" x2="1126" y2="1045" stroke="#5a5a5a" stroke-width="1" />
<line x1="1022" y1="1074.5" x2="1115" y2="1123" stroke="#5a5a5a" stroke-width="1" />
<text x="637" y="261.5">403</text>
<text x="1372.5" y="321.5">405</text>
<text x="1461" y="464">405</text>
<text x="434.5" y="412.5">408</text>
<text x="369" y="487.5">404</text>
<text x="317.5" y="686.5">405</text>
<text x="482" y="801.5">405</text>
<text x="1610" y="629">406</text>
<text x="1754" y="752.5">406</text>
<text x="1480.5" y="845.5">406</text>
<text x="1136" y="1065.5">410</text>
<text x="1125" y="1136">409</text>
</svg>
<svg width="2000" height="1414" viewBox="0 0 2000 1414" style="position:absolute;left:0;top:0">
<path transform="translate(289 94.5) scale(0.0273 -0.0273)" d="M90 750C153 716 243 665 286 633L357 731C311 762 219 809 159 838ZM35 473C97 441 187 393 229 362L296 462C251 491 160 535 100 562ZM71 3 175 -74C226 14 279 116 323 210L232 287C181 182 116 71 71 3ZM583 91H468V254H583ZM700 91V254H818V91ZM355 642V-84H468V-24H818V-77H936V642H700V846H583V642ZM583 369H468V527H583ZM700 369V527H818V369Z" fill="#000"/><path transform="translate(315.3 94.5) scale(0.0273 -0.0273)" d="M56 324V69L57 9V-44L373 3V-52H468V325H373V100L315 94V395H500V500H315V642H467V747H211C220 779 228 811 234 843L125 864C106 757 70 646 23 575C51 563 99 535 120 520C140 554 160 596 177 642H208V500H33V395H208V83L151 77V324ZM491 81V-34H969V81H782V651H952V766H502V651H659V81Z" fill="#000"/>
<text class="hd" x="134.3" y="92.6">CYLINDER /</text>
<text class="hd" x="1012.6" y="92.6">-</text>
<text class="hd" x="1586.8" y="92.6">NOT SOLD SEPARATELY</text>
<text x="1808" y="1188.2" style="font-size:13.3px" textLength="84.3" lengthAdjust="spacingAndGlyphs">3115 1944 00 23</text>
<text x="80" y="1333.8" style="font-size:74.4px;letter-spacing:0.55px">by AtlasCopco</text>
<text x="986" y="1334" style="font-size:23.7px">44</text>
</svg>
</body></html>
